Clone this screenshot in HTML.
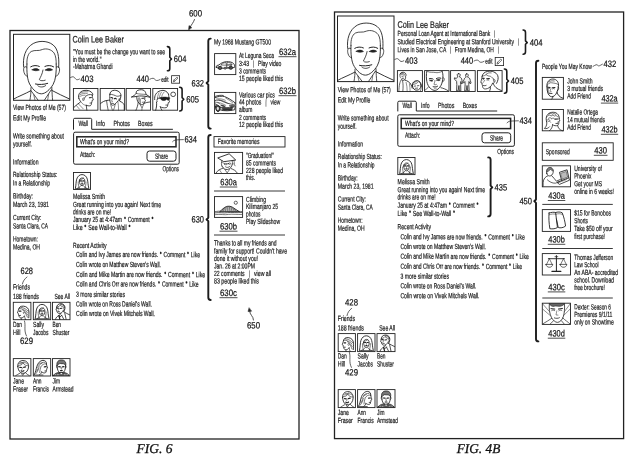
<!DOCTYPE html>
<html><head><meta charset="utf-8"><title>FIG. 6 / FIG. 4B</title>
<style>
html,body{margin:0;padding:0;background:#fff;}
body{width:640px;height:462px;overflow:hidden;font-family:"Liberation Sans",sans-serif;}
svg{display:block;font-family:"Liberation Sans",sans-serif;text-rendering:geometricPrecision;filter:grayscale(1);}
.fig{font-family:"Liberation Serif",serif;font-style:italic;}
</style></head><body>
<svg width="640" height="462" viewBox="0 0 640 462">
<rect x="0" y="0" width="640" height="462" fill="#ffffff"/>
<rect x="10.0" y="30.5" width="289.0" height="408.5" rx="0" fill="none" stroke="#222" stroke-width="1.3"/>
<text transform="rotate(0.05 195.5 16.5)" x="189.0" y="16.5" font-size="9.2" textLength="13.0" lengthAdjust="spacingAndGlyphs" fill="#111" stroke="#111" stroke-width="0.21" >600</text>
<path d="M194.5 19.5 C193.5 22.5 191.5 24.5 189.6 28" fill="none" stroke="#222" stroke-width="0.8" stroke-linecap="round" stroke-linejoin="round" />
<path d="M188.6 29.8 L189 25.6 L191.6 27.4 Z" fill="#222" stroke="#222" stroke-width="0.5" stroke-linecap="round" stroke-linejoin="round" />
<rect x="13.5" y="34.3" width="56.3" height="66.0" rx="0" fill="#fff" stroke="#222" stroke-width="1.0"/>
<g transform="translate(13.50 34.30) scale(0.9877 1.0000)"><g transform="translate(27.8 -0.3) scale(1.03 1) translate(-27.6 0)"><path d="M10.6 33 C9.5 24 12 14 20 9.5 C27 5.8 37 7 41.5 13 C45 18 45.5 26 45 33.5" fill="none" stroke="#222" stroke-width="0.9" stroke-linecap="round" stroke-linejoin="round" vector-effect="non-scaling-stroke"/><path d="M13.8 30 C13.5 24 15 19.5 18 17.5 C22 15.5 25 17.5 29 15.5 C33 14 38 15.5 40.5 19 C42.3 22 42.6 26 42.6 30" fill="none" stroke="#222" stroke-width="0.8" stroke-linecap="round" stroke-linejoin="round" vector-effect="non-scaling-stroke"/><path d="M13.8 30 C13.6 38 14 46 17 51 C20 56 24 59.8 28 59.8 C32 59.8 36.5 55.5 39.5 50.5 C42.3 45.5 42.8 38 42.6 30" fill="none" stroke="#222" stroke-width="0.9" stroke-linecap="round" stroke-linejoin="round" vector-effect="non-scaling-stroke"/><path d="M13.6 33 C10.5 31.5 10 35 11 38.5 C11.8 41 13 42.5 14.3 42" fill="none" stroke="#222" stroke-width="0.8" stroke-linecap="round" stroke-linejoin="round" vector-effect="non-scaling-stroke"/><path d="M42.8 33 C45.8 31.5 46.5 35 45.4 38.5 C44.6 41 43.4 42.5 42.2 42" fill="none" stroke="#222" stroke-width="0.8" stroke-linecap="round" stroke-linejoin="round" vector-effect="non-scaling-stroke"/><path d="M17.5 32.8 C20 31.2 23.5 31.2 26 32.4" fill="none" stroke="#222" stroke-width="1.0" stroke-linecap="round" stroke-linejoin="round" vector-effect="non-scaling-stroke"/><path d="M31.5 32.4 C34 31.2 37.5 31.2 40 32.8" fill="none" stroke="#222" stroke-width="1.0" stroke-linecap="round" stroke-linejoin="round" vector-effect="non-scaling-stroke"/><path d="M19 35.8 C21 34.2 24 34.2 26 36 C24 37 21 37 19 35.8 Z" fill="#222" stroke="#222" stroke-width="0.7" stroke-linecap="round" stroke-linejoin="round" vector-effect="non-scaling-stroke"/><path d="M32 36 C34 34.2 37 34.2 39 35.8 C37 37 34 37 32 36 Z" fill="#222" stroke="#222" stroke-width="0.7" stroke-linecap="round" stroke-linejoin="round" vector-effect="non-scaling-stroke"/><path d="M29.6 36 C29 40 27 43.4 26 45.6 C27 47 29.8 47 31.8 46.2" fill="none" stroke="#222" stroke-width="0.8" stroke-linecap="round" stroke-linejoin="round" vector-effect="non-scaling-stroke"/><path d="M22.2 50 C25 50.8 31 50.6 34.2 49.4" fill="none" stroke="#222" stroke-width="1.0" stroke-linecap="round" stroke-linejoin="round" vector-effect="non-scaling-stroke"/><path d="M24.5 51.8 C26.5 53.6 30.5 53.4 32.3 51.5" fill="none" stroke="#222" stroke-width="0.8" stroke-linecap="round" stroke-linejoin="round" vector-effect="non-scaling-stroke"/></g><path d="M17.7 53.4 C17.7 58 17.4 62 16.6 66" fill="none" stroke="#222" stroke-width="0.8" stroke-linecap="round" stroke-linejoin="round" vector-effect="non-scaling-stroke"/><path d="M38.8 52.9 C39 58 39.2 62 39.6 66" fill="none" stroke="#222" stroke-width="0.8" stroke-linecap="round" stroke-linejoin="round" vector-effect="non-scaling-stroke"/><path d="M17.4 56.5 C12 59.5 5 62 0.5 64.6" fill="none" stroke="#222" stroke-width="0.9" stroke-linecap="round" stroke-linejoin="round" vector-effect="non-scaling-stroke"/><path d="M38.6 56 C44 59 51 62 56.5 64.6" fill="none" stroke="#222" stroke-width="0.9" stroke-linecap="round" stroke-linejoin="round" vector-effect="non-scaling-stroke"/><path d="M17.8 56.5 L25 66" fill="none" stroke="#222" stroke-width="0.8" stroke-linecap="round" stroke-linejoin="round" vector-effect="non-scaling-stroke"/><path d="M38.2 55.5 L31.2 66" fill="none" stroke="#222" stroke-width="0.8" stroke-linecap="round" stroke-linejoin="round" vector-effect="non-scaling-stroke"/><path d="M20.5 60.5 L21.8 66" fill="none" stroke="#222" stroke-width="0.6" stroke-linecap="round" stroke-linejoin="round" vector-effect="non-scaling-stroke"/><path d="M35.6 60 L34.5 66" fill="none" stroke="#222" stroke-width="0.6" stroke-linecap="round" stroke-linejoin="round" vector-effect="non-scaling-stroke"/></g>
<text transform="rotate(0.05 98.2 42.6)" x="72.5" y="42.6" font-size="9.4" textLength="51.5" lengthAdjust="spacingAndGlyphs" fill="#1a1a1a" stroke="#1a1a1a" stroke-width="0.21" >Colin Lee Baker</text>
<text transform="rotate(0.05 119.0 54.2)" x="73.0" y="54.2" font-size="7.5" textLength="92.0" lengthAdjust="spacingAndGlyphs" fill="#1a1a1a" stroke="#1a1a1a" stroke-width="0.21" >"You must be the change you want to see</text>
<text transform="rotate(0.05 87.2 61.9)" x="73.0" y="61.9" font-size="7.5" textLength="28.5" lengthAdjust="spacingAndGlyphs" fill="#1a1a1a" stroke="#1a1a1a" stroke-width="0.21" >in the world."</text>
<text transform="rotate(0.05 92.8 69.1)" x="73.0" y="69.1" font-size="7.5" textLength="39.5" lengthAdjust="spacingAndGlyphs" fill="#1a1a1a" stroke="#1a1a1a" stroke-width="0.21" >-Mahatma Ghandi</text>
<path d="M167.4 46.6 C169.2 46.6 169.8 47.4 169.8 49.0 L169.8 57.3 L171.5 59.0 L169.8 60.7 L169.8 68.4 C169.8 70.0 169.2 70.8 167.4 70.8" fill="none" stroke="#1c1c1c" stroke-width="1.6" stroke-linecap="round" stroke-linejoin="round" />
<text transform="rotate(0.05 180.1 61.9)" x="173.8" y="61.9" font-size="9.2" textLength="12.6" lengthAdjust="spacingAndGlyphs" fill="#111" stroke="#111" stroke-width="0.21" >604</text>
<path d="M70.5 77.5 C73.2 75.9 74.1 77.0 75.0 78.2 S76.8 80.6 79.5 79.0" fill="none" stroke="#222" stroke-width="0.7" stroke-linecap="round" stroke-linejoin="round" />
<text transform="rotate(0.05 87.0 82.0)" x="80.5" y="82.0" font-size="9.2" textLength="13.0" lengthAdjust="spacingAndGlyphs" fill="#111" stroke="#111" stroke-width="0.21" >403</text>
<text transform="rotate(0.05 142.8 82.0)" x="136.5" y="82.0" font-size="9.2" textLength="12.5" lengthAdjust="spacingAndGlyphs" fill="#111" stroke="#111" stroke-width="0.21" >440</text>
<path d="M149.8 79.2 C152.9 77.6 153.9 78.2 154.9 79.4 S156.9 81.2 160.0 79.6" fill="none" stroke="#222" stroke-width="0.7" stroke-linecap="round" stroke-linejoin="round" />
<text transform="rotate(0.05 164.9 81.7)" x="161.2" y="81.7" font-size="7.0" textLength="7.4" lengthAdjust="spacingAndGlyphs" fill="#111" stroke="#111" stroke-width="0.21" >edit</text>
<rect x="171.6" y="75.7" width="8.0" height="7.5" rx="0" fill="#fff" stroke="#222" stroke-width="0.8"/>
<g transform="translate(171.60 75.70) scale(1.0000 0.9375)"><path d="M1.8 6.2 L2.2 4.8 L5.4 1.6 L6.4 2.6 L3.2 5.8 Z M2.2 4.8 L3.2 5.8" fill="none" stroke="#222" stroke-width="0.6" stroke-linecap="round" stroke-linejoin="round" vector-effect="non-scaling-stroke"/></g>
<rect x="73.4" y="88.5" width="24.5" height="21.7" rx="0" fill="#fff" stroke="#222" stroke-width="0.9"/>
<g transform="translate(73.40 88.50) scale(1.0208 0.9864)"><path d="M5.2 10 C4.4 6.4 6 3 10.4 2 C14.4 1.2 17.8 3 18.9 5.4 C19.2 6 18.9 6.6 18.6 7" fill="none" stroke="#222" stroke-width="0.9" stroke-linecap="round" stroke-linejoin="round" vector-effect="non-scaling-stroke"/><path d="M18.6 7 C18.4 8.4 18.8 9.6 19.5 11.6 L18.2 12.2 C18.4 13.2 18.2 14 17.7 14.8 C17.8 16 17.4 17 16.6 17.5 C15 17.8 13.6 17.4 12.6 17" fill="none" stroke="#222" stroke-width="0.8" stroke-linecap="round" stroke-linejoin="round" vector-effect="non-scaling-stroke"/><path d="M18.4 6.4 C16 5.6 13.4 6.4 12 8 C11 9.2 10.4 10.4 10.2 11.8" fill="none" stroke="#222" stroke-width="0.8" stroke-linecap="round" stroke-linejoin="round" vector-effect="non-scaling-stroke"/><path d="M7 4.6 C9 3.4 11.6 3 14 3.4 M6.4 6.4 C8.6 5 11 4.6 13.6 5 M6 8.4 C7.6 7.2 9.6 6.6 11.6 6.8" fill="none" stroke="#222" stroke-width="0.5" stroke-linecap="round" stroke-linejoin="round" vector-effect="non-scaling-stroke"/><path d="M10 9.6 C8.8 9.2 8.4 11.2 9.6 12.4" fill="none" stroke="#222" stroke-width="0.6" stroke-linecap="round" stroke-linejoin="round" vector-effect="non-scaling-stroke"/><path d="M15.6 9.4 L17.6 9.2" fill="none" stroke="#222" stroke-width="1.0" stroke-linecap="round" stroke-linejoin="round" vector-effect="non-scaling-stroke"/><path d="M16.2 14.8 L17.6 14.6" fill="none" stroke="#222" stroke-width="0.7" stroke-linecap="round" stroke-linejoin="round" vector-effect="non-scaling-stroke"/><path d="M5.4 10 C6 12 7 13 7.2 13.4 C5.4 15 2.4 17 0.5 19.2" fill="none" stroke="#222" stroke-width="0.9" stroke-linecap="round" stroke-linejoin="round" vector-effect="non-scaling-stroke"/><path d="M12.6 17 C12.8 19 13 20.6 13.2 22" fill="none" stroke="#222" stroke-width="0.8" stroke-linecap="round" stroke-linejoin="round" vector-effect="non-scaling-stroke"/><path d="M7.4 13.6 C8.6 15.6 10.6 17 12.6 17.2 M5 15.6 L9.6 20.6 M3 17.4 L6 21" fill="none" stroke="#222" stroke-width="0.5" stroke-linecap="round" stroke-linejoin="round" vector-effect="non-scaling-stroke"/></g>
<rect x="100.2" y="88.5" width="24.5" height="21.7" rx="0" fill="#fff" stroke="#222" stroke-width="0.9"/>
<g transform="translate(100.20 88.50) scale(1.0208 0.9864)"><path d="M9.4 6.2 C9.4 3.4 11.4 1.8 14 1.8 C17.4 1.8 20.4 4 20.3 7.4 C20.2 9.6 19.6 11 19 12.2" fill="none" stroke="#222" stroke-width="0.9" stroke-linecap="round" stroke-linejoin="round" vector-effect="non-scaling-stroke"/><path d="M9.4 6.2 C9.2 9 9.2 11.6 9.8 13.8 C10.4 15.8 11.2 17 12.2 17 C13.8 16.8 15.4 15.2 16.4 13.8 C17.4 12.6 18.4 11.6 19 10.4" fill="none" stroke="#222" stroke-width="0.8" stroke-linecap="round" stroke-linejoin="round" vector-effect="non-scaling-stroke"/><path d="M9.6 5.8 C12 6 14.6 7 16.2 7.8 C17.6 8 19 7.6 20.2 7" fill="none" stroke="#222" stroke-width="0.7" stroke-linecap="round" stroke-linejoin="round" vector-effect="non-scaling-stroke"/><path d="M10.4 9.4 C11 9 11.8 9.2 12.2 9.8 M13.8 10.4 C14.4 9.8 15.4 10 15.8 10.6" fill="none" stroke="#222" stroke-width="1.1" stroke-linecap="round" stroke-linejoin="round" vector-effect="non-scaling-stroke"/><path d="M11.8 10.6 L11.2 13 L12.2 13.4" fill="none" stroke="#222" stroke-width="0.5" stroke-linecap="round" stroke-linejoin="round" vector-effect="non-scaling-stroke"/><path d="M11 15 L13 15.2" fill="none" stroke="#222" stroke-width="0.7" stroke-linecap="round" stroke-linejoin="round" vector-effect="non-scaling-stroke"/><path d="M18.4 10.4 C19.4 10 19.8 11.6 18.8 12.6" fill="none" stroke="#222" stroke-width="0.5" stroke-linecap="round" stroke-linejoin="round" vector-effect="non-scaling-stroke"/><path d="M0.4 15.2 C2 13.6 4.4 12.4 6.2 12.2 C7.4 12 8.6 11.8 9.4 11.8" fill="none" stroke="#222" stroke-width="0.9" stroke-linecap="round" stroke-linejoin="round" vector-effect="non-scaling-stroke"/><path d="M19.4 13 C21.4 13.8 23 15.2 23.6 16.6 L23.6 22" fill="none" stroke="#222" stroke-width="0.9" stroke-linecap="round" stroke-linejoin="round" vector-effect="non-scaling-stroke"/><path d="M6.2 12.2 C6.6 15.6 7.2 19 7.8 22" fill="none" stroke="#222" stroke-width="0.7" stroke-linecap="round" stroke-linejoin="round" vector-effect="non-scaling-stroke"/><path d="M10.2 16 C10.6 18 11.4 20.4 12 22 M14.8 15.6 C14.4 18 13.6 20.4 13 22" fill="none" stroke="#222" stroke-width="0.6" stroke-linecap="round" stroke-linejoin="round" vector-effect="non-scaling-stroke"/><path d="M17.4 13.4 C17.8 16 18 19 18 22" fill="none" stroke="#222" stroke-width="0.5" stroke-linecap="round" stroke-linejoin="round" vector-effect="non-scaling-stroke"/></g>
<rect x="126.2" y="88.5" width="24.4" height="21.7" rx="0" fill="#fff" stroke="#222" stroke-width="0.9"/>
<g transform="translate(126.20 88.50) scale(1.0167 0.9864)"><path d="M5.4 8.6 C7.4 7.6 9 6.2 9.8 5 C9.8 3 10.4 2.2 11.6 1.8 C13.6 1 16.4 1 17.8 2.2 C19 3.4 19.4 4.8 19.4 6 C20.8 6.8 22.2 7.6 23.2 8.6" fill="none" stroke="#222" stroke-width="0.9" stroke-linecap="round" stroke-linejoin="round" vector-effect="non-scaling-stroke"/><path d="M5.4 8.6 C9 8.4 11 7.8 13 7.6 C16 7.4 20 8 23.2 8.8" fill="none" stroke="#222" stroke-width="0.9" stroke-linecap="round" stroke-linejoin="round" vector-effect="non-scaling-stroke"/><path d="M9.8 5 C12.6 5.8 16.6 5.8 19.4 6" fill="none" stroke="#222" stroke-width="0.6" stroke-linecap="round" stroke-linejoin="round" vector-effect="non-scaling-stroke"/><path d="M10.4 8.2 C10.2 10.4 10.8 12.4 11.8 13.8 C12.8 15.2 14 16.2 15 16.4 C16.6 16.4 17.8 15 18.2 13.6 L19 12 L18.2 11.4 L18.4 8.4" fill="none" stroke="#222" stroke-width="0.8" stroke-linecap="round" stroke-linejoin="round" vector-effect="non-scaling-stroke"/><path d="M15.4 10 L17.4 9.8" fill="none" stroke="#222" stroke-width="1.0" stroke-linecap="round" stroke-linejoin="round" vector-effect="non-scaling-stroke"/><path d="M15.8 14 L17.4 13.8" fill="none" stroke="#222" stroke-width="0.6" stroke-linecap="round" stroke-linejoin="round" vector-effect="non-scaling-stroke"/><path d="M12 9.6 L11.6 12.6 M13 9.4 L12.8 13.6 M14 10.6 L14 14.8 M12.4 14.4 L14.6 16" fill="none" stroke="#222" stroke-width="0.5" stroke-linecap="round" stroke-linejoin="round" vector-effect="non-scaling-stroke"/><path d="M11.8 14 C11.6 16.6 10.8 19.4 9.6 22" fill="none" stroke="#222" stroke-width="0.8" stroke-linecap="round" stroke-linejoin="round" vector-effect="non-scaling-stroke"/><path d="M17.6 15 C19 14.4 21.4 13.8 23.4 13.6" fill="none" stroke="#222" stroke-width="0.8" stroke-linecap="round" stroke-linejoin="round" vector-effect="non-scaling-stroke"/><path d="M13.4 16 L15.6 19.6 L17.4 15.6 M15.6 19.6 L15.4 22" fill="none" stroke="#222" stroke-width="0.6" stroke-linecap="round" stroke-linejoin="round" vector-effect="non-scaling-stroke"/></g>
<rect x="152.8" y="88.5" width="24.8" height="21.7" rx="0" fill="#fff" stroke="#222" stroke-width="0.9"/>
<g transform="translate(152.80 88.50) scale(1.0333 0.9864)"><path d="M1.8 11.2 C1.4 7.4 3 3.6 7.6 2.2 C10.6 1.4 13.6 2.2 15.2 5.8" fill="none" stroke="#222" stroke-width="0.9" stroke-linecap="round" stroke-linejoin="round" vector-effect="non-scaling-stroke"/><path d="M15.2 5.8 C15.4 7.4 15.6 8.6 15.6 9 M15.6 11.6 C16 12.6 16.2 13.2 16.2 13.8 L14.9 14.4 C15 15.4 14.8 16 14.4 16.8 C14.4 18 14 19 13 19.4 C11 19.8 9 19.6 7.2 18.6" fill="none" stroke="#222" stroke-width="0.8" stroke-linecap="round" stroke-linejoin="round" vector-effect="non-scaling-stroke"/><path d="M6 4.4 C4.8 6.6 4.4 9 4.6 11.4 M8.4 3.6 C7 5.6 6.4 8 6.4 9.6 M11 3.6 C9.6 5 8.8 6.8 8.6 8.6" fill="none" stroke="#222" stroke-width="0.5" stroke-linecap="round" stroke-linejoin="round" vector-effect="non-scaling-stroke"/><path d="M7.4 9.4 C9 8.6 12.6 8.6 14 9 C15 8.8 16 9 16.4 9.4 C16.4 11 15.8 11.8 14.8 11.8 C14 11.8 13.6 11.2 13.4 10.6 C13 11.6 11.6 12.2 10.2 12.2 C8.6 12.2 7.4 11 7.4 9.4 Z" fill="#1a1a1a" stroke="#222" stroke-width="0.6" stroke-linecap="round" stroke-linejoin="round" vector-effect="non-scaling-stroke"/><path d="M4.6 9.8 L7.4 10" fill="none" stroke="#222" stroke-width="0.8" stroke-linecap="round" stroke-linejoin="round" vector-effect="non-scaling-stroke"/><path d="M4.6 10.6 C3.6 10.4 3.4 12.4 4.6 13.4" fill="none" stroke="#222" stroke-width="0.6" stroke-linecap="round" stroke-linejoin="round" vector-effect="non-scaling-stroke"/><path d="M12.6 16.8 L14.2 16.8" fill="none" stroke="#222" stroke-width="0.7" stroke-linecap="round" stroke-linejoin="round" vector-effect="non-scaling-stroke"/><path d="M3.6 13.6 C4 16.4 3.6 19 2.8 22" fill="none" stroke="#222" stroke-width="0.9" stroke-linecap="round" stroke-linejoin="round" vector-effect="non-scaling-stroke"/><path d="M7.2 18.6 C7.6 19.8 8.2 21 8.8 22" fill="none" stroke="#222" stroke-width="0.8" stroke-linecap="round" stroke-linejoin="round" vector-effect="non-scaling-stroke"/><circle cx="19.7" cy="5.9" r="2.3" fill="none" stroke="#222" stroke-width="0.8" vector-effect="non-scaling-stroke"/></g>
<path d="M179.7 87.3 C181.5 87.3 182.1 88.1 182.1 89.7 L182.1 97.6 L183.8 99.3 L182.1 101.0 L182.1 108.6 C182.1 110.2 181.5 111.0 179.7 111.0" fill="none" stroke="#1c1c1c" stroke-width="1.6" stroke-linecap="round" stroke-linejoin="round" />
<text transform="rotate(0.05 192.7 102.5)" x="186.3" y="102.5" font-size="9.2" textLength="12.7" lengthAdjust="spacingAndGlyphs" fill="#111" stroke="#111" stroke-width="0.21" >605</text>
<text transform="rotate(0.05 39.5 110.1)" x="13.0" y="110.1" font-size="7.5" textLength="53.0" lengthAdjust="spacingAndGlyphs" fill="#1a1a1a" stroke="#1a1a1a" stroke-width="0.21" >View Photos of Me (57)</text>
<text transform="rotate(0.05 29.5 120.6)" x="13.0" y="120.6" font-size="7.5" textLength="33.0" lengthAdjust="spacingAndGlyphs" fill="#1a1a1a" stroke="#1a1a1a" stroke-width="0.21" >Edit My Profile</text>
<text transform="rotate(0.05 38.5 138.6)" x="13.0" y="138.6" font-size="7.5" textLength="51.0" lengthAdjust="spacingAndGlyphs" fill="#1a1a1a" stroke="#1a1a1a" stroke-width="0.21" >Write something about</text>
<text transform="rotate(0.05 22.5 146.4)" x="13.0" y="146.4" font-size="7.5" textLength="19.0" lengthAdjust="spacingAndGlyphs" fill="#1a1a1a" stroke="#1a1a1a" stroke-width="0.21" >yourself.</text>
<text transform="rotate(0.05 25.8 164.6)" x="13.0" y="164.6" font-size="7.5" textLength="25.5" lengthAdjust="spacingAndGlyphs" fill="#1a1a1a" stroke="#1a1a1a" stroke-width="0.21" >Information</text>
<text transform="rotate(0.05 35.2 177.1)" x="13.0" y="177.1" font-size="7.5" textLength="44.5" lengthAdjust="spacingAndGlyphs" fill="#1a1a1a" stroke="#1a1a1a" stroke-width="0.21" >Relationship Status:</text>
<text transform="rotate(0.05 31.5 185.6)" x="13.0" y="185.6" font-size="7.5" textLength="37.0" lengthAdjust="spacingAndGlyphs" fill="#1a1a1a" stroke="#1a1a1a" stroke-width="0.21" >In a Relationship</text>
<text transform="rotate(0.05 23.0 198.6)" x="13.0" y="198.6" font-size="7.5" textLength="20.0" lengthAdjust="spacingAndGlyphs" fill="#1a1a1a" stroke="#1a1a1a" stroke-width="0.21" >Birthday:</text>
<text transform="rotate(0.05 31.0 207.1)" x="13.0" y="207.1" font-size="7.5" textLength="36.0" lengthAdjust="spacingAndGlyphs" fill="#1a1a1a" stroke="#1a1a1a" stroke-width="0.21" >March 23, 1981</text>
<text transform="rotate(0.05 27.2 220.1)" x="13.0" y="220.1" font-size="7.5" textLength="28.5" lengthAdjust="spacingAndGlyphs" fill="#1a1a1a" stroke="#1a1a1a" stroke-width="0.21" >Current City:</text>
<text transform="rotate(0.05 30.5 228.4)" x="13.0" y="228.4" font-size="7.5" textLength="35.0" lengthAdjust="spacingAndGlyphs" fill="#1a1a1a" stroke="#1a1a1a" stroke-width="0.21" >Santa Clara, CA</text>
<text transform="rotate(0.05 25.5 241.4)" x="13.0" y="241.4" font-size="7.5" textLength="25.0" lengthAdjust="spacingAndGlyphs" fill="#1a1a1a" stroke="#1a1a1a" stroke-width="0.21" >Hometown:</text>
<text transform="rotate(0.05 26.5 249.4)" x="13.0" y="249.4" font-size="7.5" textLength="27.0" lengthAdjust="spacingAndGlyphs" fill="#1a1a1a" stroke="#1a1a1a" stroke-width="0.21" >Medina, OH</text>
<text transform="rotate(0.05 26.8 274.0)" x="20.5" y="274.0" font-size="9.2" textLength="12.5" lengthAdjust="spacingAndGlyphs" fill="#111" stroke="#111" stroke-width="0.21" >628</text>
<path d="M27 277 C24.5 279 23 281 22.4 284" fill="none" stroke="#222" stroke-width="0.7" stroke-linecap="round" stroke-linejoin="round" />
<text transform="rotate(0.05 21.5 289.6)" x="13.0" y="289.6" font-size="7.5" textLength="17.0" lengthAdjust="spacingAndGlyphs" fill="#1a1a1a" stroke="#1a1a1a" stroke-width="0.21" >Friends</text>
<text transform="rotate(0.05 26.0 298.9)" x="13.0" y="298.9" font-size="7.5" textLength="26.0" lengthAdjust="spacingAndGlyphs" fill="#1a1a1a" stroke="#1a1a1a" stroke-width="0.21" >188 friends</text>
<text transform="rotate(0.05 62.2 298.9)" x="54.5" y="298.9" font-size="7.5" textLength="15.5" lengthAdjust="spacingAndGlyphs" fill="#1a1a1a" stroke="#1a1a1a" stroke-width="0.21" >See All</text>
<rect x="13.3" y="302.3" width="17.6" height="17.4" rx="0" fill="#fff" stroke="#222" stroke-width="0.9"/>
<g transform="translate(13.30 302.30) scale(0.9778 0.9667)"><path d="M5.6 7 C5.6 5 7.6 3.8 10.4 4 C13.6 4.2 16 6.4 16 9.6 C16 11.6 16 13.6 15.8 16" fill="none" stroke="#222" stroke-width="0.9" stroke-linecap="round" stroke-linejoin="round" vector-effect="non-scaling-stroke"/><path d="M5.6 7 C5.2 8.2 4.8 9.4 4.2 11 L5.2 11.6 C5.2 12.6 5.4 13.4 5.8 14 C6 15.4 6.8 16.2 8 16.2 C9.4 16.2 10.6 15.4 11.4 14.2" fill="none" stroke="#222" stroke-width="0.8" stroke-linecap="round" stroke-linejoin="round" vector-effect="non-scaling-stroke"/><path d="M6.4 6.4 C9 6.6 12 8 14.4 10.4 M7.6 5.2 C10.4 5.4 13.4 7 15.4 9.4 M9.6 8 C11.6 9 13.4 10.8 14.6 13 M11.4 10.4 C12.8 11.6 13.8 13.4 14.4 15.4" fill="none" stroke="#222" stroke-width="0.6" stroke-linecap="round" stroke-linejoin="round" vector-effect="non-scaling-stroke"/><path d="M6.2 9.2 L7.8 9.2" fill="none" stroke="#222" stroke-width="1.2" stroke-linecap="round" stroke-linejoin="round" vector-effect="non-scaling-stroke"/><path d="M6 13.6 L7.4 13.6" fill="none" stroke="#222" stroke-width="0.8" stroke-linecap="round" stroke-linejoin="round" vector-effect="non-scaling-stroke"/><path d="M10.8 9.8 C10 9.6 9.8 11.4 10.8 12" fill="none" stroke="#222" stroke-width="0.6" stroke-linecap="round" stroke-linejoin="round" vector-effect="non-scaling-stroke"/><path d="M11.4 14.2 C11.6 15.4 12 16.6 12.6 18 M8 16.4 C8 17 8.2 17.6 8.4 18" fill="none" stroke="#222" stroke-width="0.7" stroke-linecap="round" stroke-linejoin="round" vector-effect="non-scaling-stroke"/></g>
<rect x="33.3" y="302.3" width="17.4" height="17.4" rx="0" fill="#fff" stroke="#222" stroke-width="0.9"/>
<g transform="translate(33.30 302.30) scale(0.9667 0.9667)"><path d="M2 16.6 C2.8 13 2.6 9.6 3.4 7 C4.4 3.8 6.6 2.2 9 2.2 C11.6 2.2 13.8 4 14.6 7 C15.4 9.8 15.2 13 16.2 16.6" fill="none" stroke="#222" stroke-width="0.9" stroke-linecap="round" stroke-linejoin="round" vector-effect="non-scaling-stroke"/><path d="M6.2 9 C6.2 7 7.4 5.8 9.1 5.8 C10.8 5.8 12 7 12 9 C12 11.6 10.8 14 9.1 14 C7.4 14 6.2 11.6 6.2 9 Z" fill="none" stroke="#222" stroke-width="0.8" stroke-linecap="round" stroke-linejoin="round" vector-effect="non-scaling-stroke"/><path d="M6.4 7.8 C8 7.6 9.8 6.8 10.6 5.9 M5 10 C5 12.6 5.4 14.6 6 16.6 M13.2 10 C13.2 12.6 12.8 14.6 12.2 16.6" fill="none" stroke="#222" stroke-width="0.6" stroke-linecap="round" stroke-linejoin="round" vector-effect="non-scaling-stroke"/><path d="M7.2 8.9 L8.4 8.9 M9.9 8.9 L11.1 8.9" fill="none" stroke="#222" stroke-width="1.2" stroke-linecap="round" stroke-linejoin="round" vector-effect="non-scaling-stroke"/><path d="M8.5 12 L9.8 12" fill="none" stroke="#222" stroke-width="1.1" stroke-linecap="round" stroke-linejoin="round" vector-effect="non-scaling-stroke"/><path d="M9.1 9.6 L9.1 10.8" fill="none" stroke="#222" stroke-width="0.5" stroke-linecap="round" stroke-linejoin="round" vector-effect="non-scaling-stroke"/><path d="M7.6 14.2 C7 15.4 5.6 16.2 4 16.8 M10.6 14.2 C11.2 15.4 12.6 16.2 14.2 16.8 M2 17 L16.2 17" fill="none" stroke="#222" stroke-width="0.7" stroke-linecap="round" stroke-linejoin="round" vector-effect="non-scaling-stroke"/></g>
<rect x="52.5" y="302.3" width="17.5" height="17.4" rx="0" fill="#fff" stroke="#222" stroke-width="0.9"/>
<g transform="translate(52.50 302.30) scale(0.9722 0.9667)"><path d="M4.2 5.6 C4 3.2 6 1.4 8.6 1.4 C11.4 1.4 13 3.6 12.8 6.2 C12.6 7.6 12.2 8.8 11.6 9.8" fill="none" stroke="#222" stroke-width="0.9" stroke-linecap="round" stroke-linejoin="round" vector-effect="non-scaling-stroke"/><path d="M4.2 5.6 C4 6.6 3.8 7.4 3.6 8 L4.4 8.4 C4.4 9.4 4.6 10.2 5.2 10.8 C6 11.6 7.4 11.8 8.6 11.2 C9.8 10.6 10.8 9.4 11.2 8.2" fill="none" stroke="#222" stroke-width="0.8" stroke-linecap="round" stroke-linejoin="round" vector-effect="non-scaling-stroke"/><path d="M4.6 4.8 C6 4.8 7.2 4 8 3 C9.4 4.4 11.2 5 12.6 5.2 M8.4 2.2 C10 2.2 11.4 3 12.2 4.2" fill="none" stroke="#222" stroke-width="0.7" stroke-linecap="round" stroke-linejoin="round" vector-effect="non-scaling-stroke"/><path d="M5 6 L6.4 6.2 M8 6.4 L9.6 6.2" fill="none" stroke="#222" stroke-width="1.1" stroke-linecap="round" stroke-linejoin="round" vector-effect="non-scaling-stroke"/><path d="M5.6 9.6 L7.2 9.8" fill="none" stroke="#222" stroke-width="0.8" stroke-linecap="round" stroke-linejoin="round" vector-effect="non-scaling-stroke"/><path d="M6.8 6.8 L6 8.4" fill="none" stroke="#222" stroke-width="0.5" stroke-linecap="round" stroke-linejoin="round" vector-effect="non-scaling-stroke"/><path d="M11.2 6 C12.2 5.6 12.6 7.2 11.6 8.4" fill="none" stroke="#222" stroke-width="0.6" stroke-linecap="round" stroke-linejoin="round" vector-effect="non-scaling-stroke"/><path d="M8.6 11.4 C8.4 12.4 7.6 13.2 6.6 13.6 L7.4 15.6 L9.4 13.4 M11.6 9.8 C13.4 11 16 12.2 17.6 13 M6.6 13.6 C5 14.4 3.6 15.6 3 17.6 M9.4 13.4 L11.6 17.6 M12.6 11 L14 17.6" fill="none" stroke="#222" stroke-width="0.8" stroke-linecap="round" stroke-linejoin="round" vector-effect="non-scaling-stroke"/><path d="M6.6 13.8 L7.6 17.6" fill="none" stroke="#222" stroke-width="1.2" stroke-linecap="round" stroke-linejoin="round" vector-effect="non-scaling-stroke"/></g>
<text transform="rotate(0.05 17.5 327.1)" x="13.0" y="327.1" font-size="7.5" textLength="9.0" lengthAdjust="spacingAndGlyphs" fill="#1a1a1a" stroke="#1a1a1a" stroke-width="0.21" >Dan</text>
<text transform="rotate(0.05 16.8 335.1)" x="13.0" y="335.1" font-size="7.5" textLength="7.5" lengthAdjust="spacingAndGlyphs" fill="#1a1a1a" stroke="#1a1a1a" stroke-width="0.21" >Hill</text>
<text transform="rotate(0.05 38.5 327.1)" x="33.0" y="327.1" font-size="7.5" textLength="11.0" lengthAdjust="spacingAndGlyphs" fill="#1a1a1a" stroke="#1a1a1a" stroke-width="0.21" >Sally</text>
<text transform="rotate(0.05 40.8 335.1)" x="33.0" y="335.1" font-size="7.5" textLength="15.5" lengthAdjust="spacingAndGlyphs" fill="#1a1a1a" stroke="#1a1a1a" stroke-width="0.21" >Jacobs</text>
<text transform="rotate(0.05 56.8 327.1)" x="52.5" y="327.1" font-size="7.5" textLength="8.5" lengthAdjust="spacingAndGlyphs" fill="#1a1a1a" stroke="#1a1a1a" stroke-width="0.21" >Ben</text>
<text transform="rotate(0.05 61.0 335.1)" x="52.5" y="335.1" font-size="7.5" textLength="17.0" lengthAdjust="spacingAndGlyphs" fill="#1a1a1a" stroke="#1a1a1a" stroke-width="0.21" >Shuster</text>
<path d="M24.5 321 C26 326 23.5 330 26.5 336" fill="none" stroke="#222" stroke-width="0.7" stroke-linecap="round" stroke-linejoin="round" />
<text transform="rotate(0.05 26.5 344.0)" x="20.0" y="344.0" font-size="9.2" textLength="13.0" lengthAdjust="spacingAndGlyphs" fill="#111" stroke="#111" stroke-width="0.21" >629</text>
<rect x="13.3" y="358.6" width="17.6" height="17.4" rx="0" fill="#fff" stroke="#222" stroke-width="0.9"/>
<g transform="translate(13.30 358.60) scale(0.9778 0.9667)"><path d="M4.6 8 C4.2 4.6 6.6 2 10 2 C13.6 2 16 4.8 15.6 8.6 C15.4 11.6 13.6 14.6 10.8 15.2 C8.4 15.6 6.4 14 5.4 11.6 C5 10.6 4.8 9.4 4.6 8 Z" fill="none" stroke="#222" stroke-width="0.9" stroke-linecap="round" stroke-linejoin="round" vector-effect="non-scaling-stroke"/><path d="M5 7 C7 7.4 9 6.4 10 4.6 C11 6.6 13.4 7.6 15.4 7.4 M7 3.6 C8.6 4.4 9.6 4.4 11 3.4 M10.4 4.4 C12 3.8 13.6 4.4 14.6 5.6 M6 5.2 C7.2 5.6 8.4 5.2 9.2 4.4" fill="none" stroke="#222" stroke-width="0.6" stroke-linecap="round" stroke-linejoin="round" vector-effect="non-scaling-stroke"/><path d="M6.6 9 L8.4 9.2 M10.6 9 L12.6 8.6" fill="none" stroke="#222" stroke-width="1.2" stroke-linecap="round" stroke-linejoin="round" vector-effect="non-scaling-stroke"/><path d="M8 12.6 C8.8 13.2 10 13.2 10.8 12.4" fill="none" stroke="#222" stroke-width="1.1" stroke-linecap="round" stroke-linejoin="round" vector-effect="non-scaling-stroke"/><path d="M9.4 9.6 L8.8 11.2" fill="none" stroke="#222" stroke-width="0.5" stroke-linecap="round" stroke-linejoin="round" vector-effect="non-scaling-stroke"/><path d="M7 15 C5.6 16 3.6 16.6 2.4 17.6 M12.6 14.8 C13.6 16 15 16.8 16.4 17.6 M8.4 15.6 L9.6 17.4 L11 15.4" fill="none" stroke="#222" stroke-width="0.7" stroke-linecap="round" stroke-linejoin="round" vector-effect="non-scaling-stroke"/></g>
<rect x="33.3" y="358.6" width="17.4" height="17.4" rx="0" fill="#fff" stroke="#222" stroke-width="0.9"/>
<g transform="translate(33.30 358.60) scale(0.9667 0.9667)"><path d="M1 16.6 C2.6 14 2.8 11 3.6 8.4 C4.6 4.6 7 2 10 1.8 C12.6 1.8 14 3.6 13.6 5.8" fill="none" stroke="#222" stroke-width="0.9" stroke-linecap="round" stroke-linejoin="round" vector-effect="non-scaling-stroke"/><path d="M13.6 5.8 C13.8 7 14.2 8.4 14.8 9.8 L13.8 10.4 C14 11.4 13.8 12 13.4 12.6 C13.4 13.8 13 14.6 12 14.8 C10.8 15 9.6 14.6 8.6 13.8" fill="none" stroke="#222" stroke-width="0.8" stroke-linecap="round" stroke-linejoin="round" vector-effect="non-scaling-stroke"/><path d="M13.4 5.4 C11 5 8.8 6.4 7.8 8.6 C7 10.4 7 12.4 6.6 14.4 M5.6 6 C7.4 4.4 9.6 3.6 11.8 3.8 M4.6 9 C5.6 7 7 5.6 9 4.8 M3.6 13 C4.6 11 5.4 9.4 6.4 8.4 M2.6 15.6 C4 14 5 12 5.6 10.4" fill="none" stroke="#222" stroke-width="0.6" stroke-linecap="round" stroke-linejoin="round" vector-effect="non-scaling-stroke"/><path d="M11.4 8.6 L13.2 8.4" fill="none" stroke="#222" stroke-width="1.2" stroke-linecap="round" stroke-linejoin="round" vector-effect="non-scaling-stroke"/><path d="M12 12.8 L13.2 12.8" fill="none" stroke="#222" stroke-width="0.8" stroke-linecap="round" stroke-linejoin="round" vector-effect="non-scaling-stroke"/><path d="M8.6 13.8 C8.4 15 7.6 16 6.4 16.8 M1 17 L10 17" fill="none" stroke="#222" stroke-width="0.8" stroke-linecap="round" stroke-linejoin="round" vector-effect="non-scaling-stroke"/></g>
<rect x="52.5" y="358.6" width="17.5" height="17.4" rx="0" fill="#fff" stroke="#222" stroke-width="0.9"/>
<g transform="translate(52.50 358.60) scale(0.9722 0.9667)"><path d="M4.6 7 C4 3.4 6 1.4 9.2 1.4 C12.4 1.4 14.2 3.4 13.6 7 C12.6 5.6 11.4 5 9.8 5.2 C8.4 5.4 7.6 4.6 7 5.4 C6 5.6 5.2 6.2 4.6 7 Z" fill="#777" stroke="#222" stroke-width="0.8" stroke-linecap="round" stroke-linejoin="round" vector-effect="non-scaling-stroke"/><path d="M4.8 6.8 C4.6 9.6 5.2 12 6.4 13.6 C7.2 14.6 8.2 15 9.1 15 C10 15 11 14.6 11.8 13.6 C13 12 13.6 9.6 13.4 6.8" fill="none" stroke="#222" stroke-width="0.9" stroke-linecap="round" stroke-linejoin="round" vector-effect="non-scaling-stroke"/><path d="M4.6 7.4 C3.8 7.2 3.8 9.2 4.8 10 M13.6 7.4 C14.4 7.2 14.4 9.2 13.4 10" fill="none" stroke="#222" stroke-width="0.6" stroke-linecap="round" stroke-linejoin="round" vector-effect="non-scaling-stroke"/><path d="M6.4 8.4 L8 8.6 M10.2 8.6 L11.8 8.4" fill="none" stroke="#222" stroke-width="1.2" stroke-linecap="round" stroke-linejoin="round" vector-effect="non-scaling-stroke"/><path d="M8.2 12.4 L10 12.4" fill="none" stroke="#222" stroke-width="1.2" stroke-linecap="round" stroke-linejoin="round" vector-effect="non-scaling-stroke"/><path d="M9.1 9 L8.8 10.8 L9.6 10.8" fill="none" stroke="#222" stroke-width="0.5" stroke-linecap="round" stroke-linejoin="round" vector-effect="non-scaling-stroke"/><path d="M1 17.4 C2 15.6 4 14.8 6.6 14.2 L17 17.4 M11.6 14.2 C14 14.8 16 15.6 17 17.4 L1 17.4 Z" fill="#777" stroke="#222" stroke-width="0.7" stroke-linecap="round" stroke-linejoin="round" vector-effect="non-scaling-stroke"/><path d="M7.4 14.8 L9.1 17 L10.8 14.8 Z" fill="#fff" stroke="#222" stroke-width="0.5" stroke-linecap="round" stroke-linejoin="round" vector-effect="non-scaling-stroke"/><path d="M2.6 16.6 L3.6 16.6 M5 16.6 L6 16.6 M12.2 16.6 L13.2 16.6 M14.6 16.6 L15.6 16.6" fill="none" stroke="#eee" stroke-width="0.6" stroke-linecap="round" stroke-linejoin="round" vector-effect="non-scaling-stroke"/></g>
<text transform="rotate(0.05 18.5 383.6)" x="13.0" y="383.6" font-size="7.5" textLength="11.0" lengthAdjust="spacingAndGlyphs" fill="#1a1a1a" stroke="#1a1a1a" stroke-width="0.21" >Jane</text>
<text transform="rotate(0.05 20.5 391.6)" x="13.0" y="391.6" font-size="7.5" textLength="15.0" lengthAdjust="spacingAndGlyphs" fill="#1a1a1a" stroke="#1a1a1a" stroke-width="0.21" >Fraser</text>
<text transform="rotate(0.05 37.2 383.6)" x="33.0" y="383.6" font-size="7.5" textLength="8.5" lengthAdjust="spacingAndGlyphs" fill="#1a1a1a" stroke="#1a1a1a" stroke-width="0.21" >Ann</text>
<text transform="rotate(0.05 41.0 391.6)" x="33.0" y="391.6" font-size="7.5" textLength="16.0" lengthAdjust="spacingAndGlyphs" fill="#1a1a1a" stroke="#1a1a1a" stroke-width="0.21" >Francis</text>
<text transform="rotate(0.05 56.2 383.6)" x="52.5" y="383.6" font-size="7.5" textLength="7.5" lengthAdjust="spacingAndGlyphs" fill="#1a1a1a" stroke="#1a1a1a" stroke-width="0.21" >Jim</text>
<text transform="rotate(0.05 63.0 391.6)" x="52.5" y="391.6" font-size="7.5" textLength="21.0" lengthAdjust="spacingAndGlyphs" fill="#1a1a1a" stroke="#1a1a1a" stroke-width="0.21" >Armstead</text>
<path d="M73.5 129.3 L73.5 119.5 C73.5 118.7 74 118.3 74.8 118.3 L90.4 118.3 C91.2 118.3 91.7 118.7 91.7 119.5 L91.7 129.3 L172.5 129.3" fill="none" stroke="#222" stroke-width="1.0" stroke-linecap="round" stroke-linejoin="round" />
<text transform="rotate(0.05 83.2 125.9)" x="78.5" y="125.9" font-size="7.5" textLength="9.5" lengthAdjust="spacingAndGlyphs" fill="#1a1a1a" stroke="#1a1a1a" stroke-width="0.21" >Wall</text>
<text transform="rotate(0.05 100.5 125.9)" x="96.0" y="125.9" font-size="7.5" textLength="9.0" lengthAdjust="spacingAndGlyphs" fill="#1a1a1a" stroke="#1a1a1a" stroke-width="0.21" >Info</text>
<text transform="rotate(0.05 121.8 125.9)" x="113.5" y="125.9" font-size="7.5" textLength="16.5" lengthAdjust="spacingAndGlyphs" fill="#1a1a1a" stroke="#1a1a1a" stroke-width="0.21" >Photos</text>
<text transform="rotate(0.05 145.2 125.9)" x="138.0" y="125.9" font-size="7.5" textLength="14.5" lengthAdjust="spacingAndGlyphs" fill="#1a1a1a" stroke="#1a1a1a" stroke-width="0.21" >Boxes</text>
<rect x="73.6" y="132.2" width="105.6" height="32.0" rx="1.5" fill="none" stroke="#222" stroke-width="1.0"/>
<rect x="76.8" y="136.8" width="99.2" height="10.0" rx="0" fill="none" stroke="#222" stroke-width="1.5"/>
<text transform="rotate(0.05 104.5 144.2)" x="80.0" y="144.2" font-size="7.5" textLength="49.0" lengthAdjust="spacingAndGlyphs" fill="#1a1a1a" stroke="#1a1a1a" stroke-width="0.21" >What's on your mind?</text>
<path d="M172.6 141.6 C174 139.8 176 140 178 139.8 L183.4 139.6" fill="none" stroke="#222" stroke-width="0.7" stroke-linecap="round" stroke-linejoin="round" />
<text transform="rotate(0.05 190.7 142.6)" x="184.4" y="142.6" font-size="9.2" textLength="12.6" lengthAdjust="spacingAndGlyphs" fill="#111" stroke="#111" stroke-width="0.21" >634</text>
<text transform="rotate(0.05 87.8 157.1)" x="80.0" y="157.1" font-size="7.5" textLength="15.5" lengthAdjust="spacingAndGlyphs" fill="#1a1a1a" stroke="#1a1a1a" stroke-width="0.21" >Attach:</text>
<rect x="147.0" y="151.0" width="29.0" height="10.2" rx="2.5" fill="none" stroke="#222" stroke-width="1.0"/>
<text transform="rotate(0.05 161.5 158.8)" x="155.0" y="158.8" font-size="7.5" textLength="13.0" lengthAdjust="spacingAndGlyphs" fill="#1a1a1a" stroke="#1a1a1a" stroke-width="0.21" >Share</text>
<text transform="rotate(0.05 170.8 171.2)" x="162.5" y="171.2" font-size="7.5" textLength="16.5" lengthAdjust="spacingAndGlyphs" fill="#1a1a1a" stroke="#1a1a1a" stroke-width="0.21" >Options</text>
<rect x="73.5" y="172.5" width="17.0" height="17.0" rx="0" fill="#fff" stroke="#222" stroke-width="0.9"/>
<g transform="translate(73.50 172.50) scale(0.9444 0.9444)"><path d="M2 16.6 C2.8 13 2.6 9.6 3.4 7 C4.4 3.8 6.6 2.2 9 2.2 C11.6 2.2 13.8 4 14.6 7 C15.4 9.8 15.2 13 16.2 16.6" fill="none" stroke="#222" stroke-width="0.9" stroke-linecap="round" stroke-linejoin="round" vector-effect="non-scaling-stroke"/><path d="M6.2 9 C6.2 7 7.4 5.8 9.1 5.8 C10.8 5.8 12 7 12 9 C12 11.6 10.8 14 9.1 14 C7.4 14 6.2 11.6 6.2 9 Z" fill="none" stroke="#222" stroke-width="0.8" stroke-linecap="round" stroke-linejoin="round" vector-effect="non-scaling-stroke"/><path d="M6.4 7.8 C8 7.6 9.8 6.8 10.6 5.9 M5 10 C5 12.6 5.4 14.6 6 16.6 M13.2 10 C13.2 12.6 12.8 14.6 12.2 16.6" fill="none" stroke="#222" stroke-width="0.6" stroke-linecap="round" stroke-linejoin="round" vector-effect="non-scaling-stroke"/><path d="M7.2 8.9 L8.4 8.9 M9.9 8.9 L11.1 8.9" fill="none" stroke="#222" stroke-width="1.2" stroke-linecap="round" stroke-linejoin="round" vector-effect="non-scaling-stroke"/><path d="M8.5 12 L9.8 12" fill="none" stroke="#222" stroke-width="1.1" stroke-linecap="round" stroke-linejoin="round" vector-effect="non-scaling-stroke"/><path d="M9.1 9.6 L9.1 10.8" fill="none" stroke="#222" stroke-width="0.5" stroke-linecap="round" stroke-linejoin="round" vector-effect="non-scaling-stroke"/><path d="M7.6 14.2 C7 15.4 5.6 16.2 4 16.8 M10.6 14.2 C11.2 15.4 12.6 16.2 14.2 16.8 M2 17 L16.2 17" fill="none" stroke="#222" stroke-width="0.7" stroke-linecap="round" stroke-linejoin="round" vector-effect="non-scaling-stroke"/></g>
<text transform="rotate(0.05 89.0 199.1)" x="73.0" y="199.1" font-size="7.5" textLength="32.0" lengthAdjust="spacingAndGlyphs" fill="#1a1a1a" stroke="#1a1a1a" stroke-width="0.21" >Melissa Smith</text>
<text transform="rotate(0.05 117.0 207.1)" x="73.0" y="207.1" font-size="7.5" textLength="88.0" lengthAdjust="spacingAndGlyphs" fill="#1a1a1a" stroke="#1a1a1a" stroke-width="0.21" >Great running into you again! Next time</text>
<text transform="rotate(0.05 92.0 214.4)" x="73.0" y="214.4" font-size="7.5" textLength="38.0" lengthAdjust="spacingAndGlyphs" fill="#1a1a1a" stroke="#1a1a1a" stroke-width="0.21" >drinks are on me!</text>
<text transform="rotate(0.05 113.2 222.1)" x="73.0" y="222.1" font-size="7.5" textLength="80.5" lengthAdjust="spacingAndGlyphs" fill="#1a1a1a" stroke="#1a1a1a" stroke-width="0.21" >January 25 at 4:47am<tspan font-size="9.5"> </tspan><tspan dy="-1.4" font-size="8.5">•</tspan><tspan dy="1.4" font-size="9.5"> </tspan>Comment<tspan font-size="9.5"> </tspan><tspan dy="-1.4" font-size="8.5">•</tspan></text>
<text transform="rotate(0.05 101.8 230.1)" x="73.0" y="230.1" font-size="7.5" textLength="57.5" lengthAdjust="spacingAndGlyphs" fill="#1a1a1a" stroke="#1a1a1a" stroke-width="0.21" >Like<tspan font-size="9.5"> </tspan><tspan dy="-1.4" font-size="8.5">•</tspan><tspan dy="1.4" font-size="9.5"> </tspan>See Wall-to-Wall<tspan font-size="9.5"> </tspan><tspan dy="-1.4" font-size="8.5">•</tspan></text>
<text transform="rotate(0.05 89.8 248.1)" x="73.0" y="248.1" font-size="7.5" textLength="33.5" lengthAdjust="spacingAndGlyphs" fill="#1a1a1a" stroke="#1a1a1a" stroke-width="0.21" >Recent Activity</text>
<text transform="rotate(0.05 138.0 257.1)" x="76.0" y="257.1" font-size="7.5" textLength="124.0" lengthAdjust="spacingAndGlyphs" fill="#1a1a1a" stroke="#1a1a1a" stroke-width="0.21" >Colin and Ivy James are now friends.<tspan font-size="9.5"> </tspan><tspan dy="-1.4" font-size="8.5">•</tspan><tspan dy="1.4" font-size="9.5"> </tspan>Comment<tspan font-size="9.5"> </tspan><tspan dy="-1.4" font-size="8.5">•</tspan><tspan dy="1.4" font-size="9.5"> </tspan>Like</text>
<text transform="rotate(0.05 118.5 267.1)" x="76.0" y="267.1" font-size="7.5" textLength="85.0" lengthAdjust="spacingAndGlyphs" fill="#1a1a1a" stroke="#1a1a1a" stroke-width="0.21" >Colin wrote on Matthew Steven's Wall.</text>
<text transform="rotate(0.05 140.5 277.1)" x="76.0" y="277.1" font-size="7.5" textLength="129.0" lengthAdjust="spacingAndGlyphs" fill="#1a1a1a" stroke="#1a1a1a" stroke-width="0.21" >Colin and Mike Martin are now friends.<tspan font-size="9.5"> </tspan><tspan dy="-1.4" font-size="8.5">•</tspan><tspan dy="1.4" font-size="9.5"> </tspan>Comment<tspan font-size="9.5"> </tspan><tspan dy="-1.4" font-size="8.5">•</tspan><tspan dy="1.4" font-size="9.5"> </tspan>Like</text>
<text transform="rotate(0.05 137.2 286.6)" x="76.0" y="286.6" font-size="7.5" textLength="122.5" lengthAdjust="spacingAndGlyphs" fill="#1a1a1a" stroke="#1a1a1a" stroke-width="0.21" >Colin and Chris Orr are now friends.<tspan font-size="9.5"> </tspan><tspan dy="-1.4" font-size="8.5">•</tspan><tspan dy="1.4" font-size="9.5"> </tspan>Comment<tspan font-size="9.5"> </tspan><tspan dy="-1.4" font-size="8.5">•</tspan><tspan dy="1.4" font-size="9.5"> </tspan>Like</text>
<text transform="rotate(0.05 100.5 296.9)" x="76.0" y="296.9" font-size="7.5" textLength="49.0" lengthAdjust="spacingAndGlyphs" fill="#1a1a1a" stroke="#1a1a1a" stroke-width="0.21" >3 more similar stories</text>
<text transform="rotate(0.05 114.0 306.6)" x="76.0" y="306.6" font-size="7.5" textLength="76.0" lengthAdjust="spacingAndGlyphs" fill="#1a1a1a" stroke="#1a1a1a" stroke-width="0.21" >Colin wrote on Ross Daniel's Wall.</text>
<text transform="rotate(0.05 115.5 316.1)" x="76.0" y="316.1" font-size="7.5" textLength="79.0" lengthAdjust="spacingAndGlyphs" fill="#1a1a1a" stroke="#1a1a1a" stroke-width="0.21" >Colin wrote on Vivek Mitchels Wall.</text>
<path d="M210.7 38.6 C208.9 38.6 208.3 39.4 208.3 41.0 L208.3 81.3 L206.6 83.0 L208.3 84.7 L208.3 126.2 C208.3 127.8 208.9 128.6 210.7 128.6" fill="none" stroke="#1c1c1c" stroke-width="1.9" stroke-linecap="round" stroke-linejoin="round" />
<path d="M210.7 135.0 C208.9 135.0 208.3 135.8 208.3 137.4 L208.3 217.8 L206.6 219.5 L208.3 221.2 L208.3 297.6 C208.3 299.2 208.9 300.0 210.7 300.0" fill="none" stroke="#1c1c1c" stroke-width="1.9" stroke-linecap="round" stroke-linejoin="round" />
<text transform="rotate(0.05 197.8 86.5)" x="191.5" y="86.5" font-size="9.2" textLength="12.5" lengthAdjust="spacingAndGlyphs" fill="#111" stroke="#111" stroke-width="0.21" >632</text>
<text transform="rotate(0.05 197.8 222.5)" x="191.5" y="222.5" font-size="9.2" textLength="12.5" lengthAdjust="spacingAndGlyphs" fill="#111" stroke="#111" stroke-width="0.21" >630</text>
<text transform="rotate(0.05 242.5 44.6)" x="214.0" y="44.6" font-size="7.5" textLength="57.0" lengthAdjust="spacingAndGlyphs" fill="#1a1a1a" stroke="#1a1a1a" stroke-width="0.21" >My 1968 Mustang GT500</text>
<rect x="214.6" y="53.6" width="21.2" height="21.0" rx="0" fill="#fff" stroke="#222" stroke-width="0.9"/>
<g transform="translate(214.60 53.60) scale(1.0095 1.0000)"><g transform="translate(0 2.6) scale(1 0.86)"><path d="M1.6 13 C1.4 11.4 2.4 10.6 4.2 10.2 C6 8.4 8.6 6.6 11.6 6.4 C14.6 6.2 17.4 6.8 18.8 8.6 C19.8 9.6 20 11.4 19.6 13.2 L17.6 13.4" fill="none" stroke="#222" stroke-width="0.9" stroke-linecap="round" stroke-linejoin="round" vector-effect="non-scaling-stroke"/><path d="M14.2 13.8 L7.4 14 M3.4 13.8 L1.6 13" fill="none" stroke="#222" stroke-width="0.9" stroke-linecap="round" stroke-linejoin="round" vector-effect="non-scaling-stroke"/><circle cx="5.4" cy="13.6" r="1.8" fill="#555" stroke="#222" stroke-width="0.9" vector-effect="non-scaling-stroke"/><circle cx="16" cy="13.4" r="1.8" fill="#555" stroke="#222" stroke-width="0.9" vector-effect="non-scaling-stroke"/><circle cx="10.4" cy="14" r="1.2" fill="#777" stroke="#333" stroke-width="0.6" vector-effect="non-scaling-stroke"/><path d="M6.4 10 C8 8.4 9.6 7.4 11.4 7.4 L11.6 10 Z M12.6 7.4 C14.6 7.2 16.4 7.8 17.4 9.6 L12.8 10 Z" fill="none" stroke="#222" stroke-width="0.6" stroke-linecap="round" stroke-linejoin="round" vector-effect="non-scaling-stroke"/><path d="M11.8 10.2 L12 13.6 M16.6 9.8 L16.8 11.6" fill="none" stroke="#222" stroke-width="0.5" stroke-linecap="round" stroke-linejoin="round" vector-effect="non-scaling-stroke"/><path d="M1.8 11.6 L4 11.4 M12.4 10.6 L16 10.4 L16 13 L12.6 13.2 Z" fill="none" stroke="#222" stroke-width="0.5" stroke-linecap="round" stroke-linejoin="round" vector-effect="non-scaling-stroke"/></g></g>
<text transform="rotate(0.05 256.5 58.1)" x="239.0" y="58.1" font-size="7.5" textLength="35.0" lengthAdjust="spacingAndGlyphs" fill="#1a1a1a" stroke="#1a1a1a" stroke-width="0.21" >At Leguna Seca</text>
<text transform="rotate(0.05 287.5 55.0)" x="279.0" y="55.0" font-size="9.2" textLength="17.0" lengthAdjust="spacingAndGlyphs" fill="#111" stroke="#111" stroke-width="0.21" >632a</text>
<line x1="278.5" y1="56.7" x2="296.5" y2="56.7" stroke="#222" stroke-width="0.8"/>
<text transform="rotate(0.05 244.1 66.1)" x="239.0" y="66.1" font-size="7.5" textLength="10.2" lengthAdjust="spacingAndGlyphs" fill="#1a1a1a" stroke="#1a1a1a" stroke-width="0.21" >3:43</text>
<text transform="rotate(0.05 253.5 66.1)" x="253.0" y="66.1" font-size="7.5" textLength="1.0" lengthAdjust="spacingAndGlyphs" fill="#1a1a1a" stroke="#1a1a1a" stroke-width="0.21" >|</text>
<text transform="rotate(0.05 269.7 66.1)" x="258.0" y="66.1" font-size="7.5" textLength="23.4" lengthAdjust="spacingAndGlyphs" fill="#1a1a1a" stroke="#1a1a1a" stroke-width="0.21" >Play video</text>
<text transform="rotate(0.05 252.5 73.6)" x="239.0" y="73.6" font-size="7.5" textLength="27.0" lengthAdjust="spacingAndGlyphs" fill="#1a1a1a" stroke="#1a1a1a" stroke-width="0.21" >3 comments</text>
<text transform="rotate(0.05 261.0 81.1)" x="239.0" y="81.1" font-size="7.5" textLength="44.0" lengthAdjust="spacingAndGlyphs" fill="#1a1a1a" stroke="#1a1a1a" stroke-width="0.21" >15 people liked this</text>
<rect x="214.6" y="92.4" width="21.2" height="21.2" rx="0" fill="#fff" stroke="#222" stroke-width="0.9"/>
<g transform="translate(214.60 92.40) scale(1.0095 1.0095)"><path d="M0.6 5.2 C3 4 7 3.2 10 4.2 C13 5.2 17 7.8 20.4 10.4" fill="none" stroke="#222" stroke-width="0.9" stroke-linecap="round" stroke-linejoin="round" vector-effect="non-scaling-stroke"/><path d="M0.6 4 C3 3 6 2.6 8.6 3 M0.6 8 C2.5 7.4 5 7.4 7.4 8.6 C10 10 14 11.4 18.6 12" fill="none" stroke="#222" stroke-width="0.8" stroke-linecap="round" stroke-linejoin="round" vector-effect="non-scaling-stroke"/><path d="M0.6 11.4 C2 11.8 4 13 5.6 14.6 C8.6 15.4 13.6 15.4 18.6 14.8 C19.6 14 20.2 12.6 20.4 10.4" fill="none" stroke="#222" stroke-width="0.9" stroke-linecap="round" stroke-linejoin="round" vector-effect="non-scaling-stroke"/><path d="M0.8 13.6 C0.8 16.8 2 19 3.4 19 C4.8 19 5.8 16.8 5.6 14.4 C4 13 2 12.4 0.8 13.6 Z" fill="#444" stroke="#222" stroke-width="0.9" stroke-linecap="round" stroke-linejoin="round" vector-effect="non-scaling-stroke"/><ellipse cx="3.2" cy="16" rx="1.1" ry="1.7" fill="#ddd" stroke="none"/><path d="M5.8 17.4 C9.6 18.6 15 18.4 19.8 17.2 L20.4 14" fill="none" stroke="#222" stroke-width="0.9" stroke-linecap="round" stroke-linejoin="round" vector-effect="non-scaling-stroke"/><path d="M7.6 15.8 L17.6 15.6 L17.2 17.4 L8 17.6 Z" fill="#333" stroke="#222" stroke-width="0.6" stroke-linecap="round" stroke-linejoin="round" vector-effect="non-scaling-stroke"/><path d="M6.4 12.6 C8 12.4 9.6 13 10.6 14.2 C9 14.4 7.4 13.8 6.4 12.6 Z M15 13.4 C16.6 13 18.4 13 19.4 13.4 C18.4 14.2 16.4 14.2 15 13.4 Z" fill="#666" stroke="#222" stroke-width="0.7" stroke-linecap="round" stroke-linejoin="round" vector-effect="non-scaling-stroke"/><path d="M3 9.8 C5.6 10.2 9 11.6 11 12.8 M2 6.4 C5 6 8 6.4 10.6 7.8 M4 7.4 C7 7.6 10 8.8 12.6 10.4 M11 5.6 C13.6 7 16 8.6 18 10.4" fill="none" stroke="#222" stroke-width="0.5" stroke-linecap="round" stroke-linejoin="round" vector-effect="non-scaling-stroke"/><path d="M0.6 9.6 C2 9.6 3.6 10.2 5 11.2" fill="none" stroke="#222" stroke-width="0.6" stroke-linecap="round" stroke-linejoin="round" vector-effect="non-scaling-stroke"/></g>
<text transform="rotate(0.05 256.9 97.4)" x="239.0" y="97.4" font-size="7.5" textLength="35.8" lengthAdjust="spacingAndGlyphs" fill="#1a1a1a" stroke="#1a1a1a" stroke-width="0.21" >Various car pics</text>
<text transform="rotate(0.05 287.5 94.0)" x="279.0" y="94.0" font-size="9.2" textLength="17.0" lengthAdjust="spacingAndGlyphs" fill="#111" stroke="#111" stroke-width="0.21" >632b</text>
<line x1="278.5" y1="95.7" x2="296.5" y2="95.7" stroke="#222" stroke-width="0.8"/>
<text transform="rotate(0.05 250.2 104.6)" x="239.0" y="104.6" font-size="7.5" textLength="22.4" lengthAdjust="spacingAndGlyphs" fill="#1a1a1a" stroke="#1a1a1a" stroke-width="0.21" >44 photos</text>
<text transform="rotate(0.05 265.9 104.6)" x="265.4" y="104.6" font-size="7.5" textLength="1.0" lengthAdjust="spacingAndGlyphs" fill="#1a1a1a" stroke="#1a1a1a" stroke-width="0.21" >|</text>
<text transform="rotate(0.05 275.3 104.6)" x="270.4" y="104.6" font-size="7.5" textLength="9.8" lengthAdjust="spacingAndGlyphs" fill="#1a1a1a" stroke="#1a1a1a" stroke-width="0.21" >view</text>
<text transform="rotate(0.05 245.8 112.1)" x="239.0" y="112.1" font-size="7.5" textLength="13.5" lengthAdjust="spacingAndGlyphs" fill="#1a1a1a" stroke="#1a1a1a" stroke-width="0.21" >album</text>
<text transform="rotate(0.05 252.5 120.1)" x="239.0" y="120.1" font-size="7.5" textLength="27.0" lengthAdjust="spacingAndGlyphs" fill="#1a1a1a" stroke="#1a1a1a" stroke-width="0.21" >2 comments</text>
<text transform="rotate(0.05 261.0 127.1)" x="239.0" y="127.1" font-size="7.5" textLength="44.0" lengthAdjust="spacingAndGlyphs" fill="#1a1a1a" stroke="#1a1a1a" stroke-width="0.21" >12 people liked this</text>
<rect x="214.0" y="136.6" width="71.0" height="10.4" rx="0" fill="none" stroke="#222" stroke-width="0.9"/>
<text transform="rotate(0.05 238.6 144.0)" x="217.8" y="144.0" font-size="7.5" textLength="41.6" lengthAdjust="spacingAndGlyphs" fill="#1a1a1a" stroke="#1a1a1a" stroke-width="0.21" >Favorite memories</text>
<rect x="214.5" y="152.4" width="28.1" height="21.1" rx="0" fill="#fff" stroke="#222" stroke-width="0.9"/>
<g transform="translate(214.50 152.40) scale(1.0036 1.0048)"><path d="M3.6 5.4 L14.6 1.4 L21.2 7.6 L9.6 9.2 Z" fill="none" stroke="#222" stroke-width="0.9" stroke-linecap="round" stroke-linejoin="round" vector-effect="non-scaling-stroke"/><path d="M19.4 7.8 L19.8 11.4 M19.2 11.4 L20.6 13.4" fill="none" stroke="#222" stroke-width="0.6" stroke-linecap="round" stroke-linejoin="round" vector-effect="non-scaling-stroke"/><path d="M7.4 8.4 C6.8 10 6.6 12 7.4 13.6 M17.6 8.4 C18 9.6 18 10.6 17.8 11.6" fill="none" stroke="#222" stroke-width="0.7" stroke-linecap="round" stroke-linejoin="round" vector-effect="non-scaling-stroke"/><path d="M7.4 13.6 C8.4 16 10.6 17.4 13 17 C15.4 16.6 17.2 14.6 17.8 11.6" fill="none" stroke="#222" stroke-width="0.8" stroke-linecap="round" stroke-linejoin="round" vector-effect="non-scaling-stroke"/><path d="M10 11.6 C10 10.6 12.4 10.6 12.4 11.6 C12.4 12.6 10 12.6 10 11.6 Z M13.8 11.2 C13.8 10.2 16.2 10.2 16.2 11.2 C16.2 12.2 13.8 12.2 13.8 11.2 Z M12.4 11.4 L13.8 11.2" fill="none" stroke="#222" stroke-width="0.6" stroke-linecap="round" stroke-linejoin="round" vector-effect="non-scaling-stroke"/><path d="M11 14.4 C12.2 15.4 14.4 15.2 15.4 13.8" fill="none" stroke="#222" stroke-width="0.7" stroke-linecap="round" stroke-linejoin="round" vector-effect="non-scaling-stroke"/><path d="M7.4 10 L9.8 11" fill="none" stroke="#222" stroke-width="0.5" stroke-linecap="round" stroke-linejoin="round" vector-effect="non-scaling-stroke"/><path d="M8.6 15.6 C6 16.6 3 17.6 1.6 20.4 M16.4 16 C18.6 17 21.4 18 22.6 20.4" fill="none" stroke="#222" stroke-width="0.8" stroke-linecap="round" stroke-linejoin="round" vector-effect="non-scaling-stroke"/><path d="M10.4 17 L12.6 20.4 L15 17" fill="none" stroke="#222" stroke-width="0.6" stroke-linecap="round" stroke-linejoin="round" vector-effect="non-scaling-stroke"/><path d="M5 17.4 L7 20.4" fill="none" stroke="#222" stroke-width="0.5" stroke-linecap="round" stroke-linejoin="round" vector-effect="non-scaling-stroke"/></g>
<text transform="rotate(0.05 260.0 158.1)" x="246.0" y="158.1" font-size="7.5" textLength="28.0" lengthAdjust="spacingAndGlyphs" fill="#1a1a1a" stroke="#1a1a1a" stroke-width="0.21" >"Graduation!"</text>
<text transform="rotate(0.05 261.0 165.6)" x="246.0" y="165.6" font-size="7.5" textLength="30.0" lengthAdjust="spacingAndGlyphs" fill="#1a1a1a" stroke="#1a1a1a" stroke-width="0.21" >85 comments</text>
<text transform="rotate(0.05 264.5 173.1)" x="246.0" y="173.1" font-size="7.5" textLength="37.0" lengthAdjust="spacingAndGlyphs" fill="#1a1a1a" stroke="#1a1a1a" stroke-width="0.21" >228 people liked</text>
<text transform="rotate(0.05 250.5 180.1)" x="246.0" y="180.1" font-size="7.5" textLength="9.0" lengthAdjust="spacingAndGlyphs" fill="#1a1a1a" stroke="#1a1a1a" stroke-width="0.21" >this.</text>
<text transform="rotate(0.05 228.6 185.3)" x="220.3" y="185.3" font-size="9.2" textLength="16.5" lengthAdjust="spacingAndGlyphs" fill="#111" stroke="#111" stroke-width="0.21" >630a</text>
<line x1="219.8" y1="187.0" x2="237.3" y2="187.0" stroke="#222" stroke-width="0.8"/>
<line x1="214.0" y1="191.0" x2="285.0" y2="191.0" stroke="#222" stroke-width="0.9"/>
<rect x="214.5" y="196.6" width="28.1" height="20.8" rx="0" fill="#fff" stroke="#222" stroke-width="0.9"/>
<g transform="translate(214.50 196.60) scale(1.0036 0.9905)"><path d="M5.4 15 C7.4 13.4 9.4 11 11.6 10.2 C13.6 9.4 16 9.6 18 10.8 C20.4 12.2 22.4 14 24.4 15 Z" fill="#c4c4c4" stroke="#222" stroke-width="0.9" stroke-linecap="round" stroke-linejoin="round" vector-effect="non-scaling-stroke"/><path d="M10 11.4 L9 14.4 M11.6 10.6 L11 14.6 M13.2 10.2 L13.2 14.6 M14.8 10.2 L15.4 14.6 M16.4 10.6 L17.4 14.6 M18 11.4 L19.6 14.6 M8.4 12.8 L7.4 14.6 M19.8 12.6 L21.6 14.8" fill="none" stroke="#222" stroke-width="0.5" stroke-linecap="round" stroke-linejoin="round" vector-effect="non-scaling-stroke"/><path d="M0.8 15.2 C3 14.8 4.4 14.6 5.6 14.8 M24.2 15 C25.4 14.8 26.4 15 27.2 15.2" fill="none" stroke="#222" stroke-width="0.7" stroke-linecap="round" stroke-linejoin="round" vector-effect="non-scaling-stroke"/><path d="M0.8 16.4 C5 15.6 9 17 13 16.2 C17 15.6 22 16.6 27.2 16" fill="none" stroke="#222" stroke-width="0.7" stroke-linecap="round" stroke-linejoin="round" vector-effect="non-scaling-stroke"/><path d="M0.8 18.2 C6 17.4 10 18.8 14 18 C18 17.4 23 18.4 27.2 18" fill="none" stroke="#222" stroke-width="0.6" stroke-linecap="round" stroke-linejoin="round" vector-effect="non-scaling-stroke"/><circle cx="21.2" cy="6.2" r="1.6" fill="none" stroke="#222" stroke-width="0.7" vector-effect="non-scaling-stroke"/></g>
<text transform="rotate(0.05 256.0 202.1)" x="246.0" y="202.1" font-size="7.5" textLength="20.0" lengthAdjust="spacingAndGlyphs" fill="#1a1a1a" stroke="#1a1a1a" stroke-width="0.21" >Climbing</text>
<text transform="rotate(0.05 262.0 209.1)" x="246.0" y="209.1" font-size="7.5" textLength="32.0" lengthAdjust="spacingAndGlyphs" fill="#1a1a1a" stroke="#1a1a1a" stroke-width="0.21" >Kilimanjaro 25</text>
<text transform="rotate(0.05 253.2 216.6)" x="246.0" y="216.6" font-size="7.5" textLength="14.5" lengthAdjust="spacingAndGlyphs" fill="#1a1a1a" stroke="#1a1a1a" stroke-width="0.21" >photos</text>
<text transform="rotate(0.05 263.0 224.1)" x="246.0" y="224.1" font-size="7.5" textLength="34.0" lengthAdjust="spacingAndGlyphs" fill="#1a1a1a" stroke="#1a1a1a" stroke-width="0.21" >Play Slideshow</text>
<text transform="rotate(0.05 228.5 229.5)" x="220.0" y="229.5" font-size="9.2" textLength="17.0" lengthAdjust="spacingAndGlyphs" fill="#111" stroke="#111" stroke-width="0.21" >630b</text>
<line x1="219.5" y1="231.2" x2="237.5" y2="231.2" stroke="#222" stroke-width="0.8"/>
<line x1="214.0" y1="235.0" x2="285.0" y2="235.0" stroke="#222" stroke-width="0.9"/>
<text transform="rotate(0.05 245.2 245.6)" x="214.0" y="245.6" font-size="7.5" textLength="62.5" lengthAdjust="spacingAndGlyphs" fill="#1a1a1a" stroke="#1a1a1a" stroke-width="0.21" >Thanks to all my friends and</text>
<text transform="rotate(0.05 250.5 253.6)" x="214.0" y="253.6" font-size="7.5" textLength="73.0" lengthAdjust="spacingAndGlyphs" fill="#1a1a1a" stroke="#1a1a1a" stroke-width="0.21" >family for support! Couldn't have</text>
<text transform="rotate(0.05 236.0 261.1)" x="214.0" y="261.1" font-size="7.5" textLength="44.0" lengthAdjust="spacingAndGlyphs" fill="#1a1a1a" stroke="#1a1a1a" stroke-width="0.21" >done it without you!</text>
<text transform="rotate(0.05 234.5 268.6)" x="214.0" y="268.6" font-size="7.5" textLength="41.0" lengthAdjust="spacingAndGlyphs" fill="#1a1a1a" stroke="#1a1a1a" stroke-width="0.21" >Jan. 26 at 2:00PM</text>
<text transform="rotate(0.05 229.3 276.1)" x="214.0" y="276.1" font-size="7.5" textLength="30.6" lengthAdjust="spacingAndGlyphs" fill="#1a1a1a" stroke="#1a1a1a" stroke-width="0.21" >22 comments</text>
<text transform="rotate(0.05 249.3 276.1)" x="248.8" y="276.1" font-size="7.5" textLength="1.0" lengthAdjust="spacingAndGlyphs" fill="#1a1a1a" stroke="#1a1a1a" stroke-width="0.21" >|</text>
<text transform="rotate(0.05 262.5 276.1)" x="254.0" y="276.1" font-size="7.5" textLength="17.0" lengthAdjust="spacingAndGlyphs" fill="#1a1a1a" stroke="#1a1a1a" stroke-width="0.21" >view all</text>
<text transform="rotate(0.05 236.5 283.6)" x="214.0" y="283.6" font-size="7.5" textLength="45.0" lengthAdjust="spacingAndGlyphs" fill="#1a1a1a" stroke="#1a1a1a" stroke-width="0.21" >83 people liked this</text>
<text transform="rotate(0.05 228.5 296.0)" x="220.0" y="296.0" font-size="9.2" textLength="17.0" lengthAdjust="spacingAndGlyphs" fill="#111" stroke="#111" stroke-width="0.21" >630c</text>
<line x1="219.5" y1="297.7" x2="237.5" y2="297.7" stroke="#222" stroke-width="0.8"/>
<text transform="rotate(0.05 253.5 328.5)" x="247.0" y="328.5" font-size="9.2" textLength="13.0" lengthAdjust="spacingAndGlyphs" fill="#111" stroke="#111" stroke-width="0.21" >650</text>
<path d="M253.5 320 C253.5 316 249.5 315 249.6 310.5" fill="none" stroke="#222" stroke-width="0.8" stroke-linecap="round" stroke-linejoin="round" />
<path d="M249 308 L248 311.6 L251.4 311.2 Z" fill="#222" stroke="#222" stroke-width="0.5" stroke-linecap="round" stroke-linejoin="round" />
<text class="fig" x="154.5" y="452.5" font-size="13.5" text-anchor="middle" fill="#111" stroke="#111" stroke-width="0.3" textLength="36" lengthAdjust="spacingAndGlyphs">FIG. 6</text>
<rect x="334.5" y="12.0" width="289.1" height="426.6" rx="0" fill="none" stroke="#222" stroke-width="1.3"/>
<rect x="337.5" y="16.0" width="56.5" height="65.6" rx="0" fill="#fff" stroke="#222" stroke-width="1.0"/>
<g transform="translate(337.50 16.00) scale(0.9912 0.9939)"><g transform="translate(27.8 -0.3) scale(1.03 1) translate(-27.6 0)"><path d="M10.6 33 C9.5 24 12 14 20 9.5 C27 5.8 37 7 41.5 13 C45 18 45.5 26 45 33.5" fill="none" stroke="#222" stroke-width="0.9" stroke-linecap="round" stroke-linejoin="round" vector-effect="non-scaling-stroke"/><path d="M13.8 30 C13.5 24 15 19.5 18 17.5 C22 15.5 25 17.5 29 15.5 C33 14 38 15.5 40.5 19 C42.3 22 42.6 26 42.6 30" fill="none" stroke="#222" stroke-width="0.8" stroke-linecap="round" stroke-linejoin="round" vector-effect="non-scaling-stroke"/><path d="M13.8 30 C13.6 38 14 46 17 51 C20 56 24 59.8 28 59.8 C32 59.8 36.5 55.5 39.5 50.5 C42.3 45.5 42.8 38 42.6 30" fill="none" stroke="#222" stroke-width="0.9" stroke-linecap="round" stroke-linejoin="round" vector-effect="non-scaling-stroke"/><path d="M13.6 33 C10.5 31.5 10 35 11 38.5 C11.8 41 13 42.5 14.3 42" fill="none" stroke="#222" stroke-width="0.8" stroke-linecap="round" stroke-linejoin="round" vector-effect="non-scaling-stroke"/><path d="M42.8 33 C45.8 31.5 46.5 35 45.4 38.5 C44.6 41 43.4 42.5 42.2 42" fill="none" stroke="#222" stroke-width="0.8" stroke-linecap="round" stroke-linejoin="round" vector-effect="non-scaling-stroke"/><path d="M17.5 32.8 C20 31.2 23.5 31.2 26 32.4" fill="none" stroke="#222" stroke-width="1.0" stroke-linecap="round" stroke-linejoin="round" vector-effect="non-scaling-stroke"/><path d="M31.5 32.4 C34 31.2 37.5 31.2 40 32.8" fill="none" stroke="#222" stroke-width="1.0" stroke-linecap="round" stroke-linejoin="round" vector-effect="non-scaling-stroke"/><path d="M19 35.8 C21 34.2 24 34.2 26 36 C24 37 21 37 19 35.8 Z" fill="#222" stroke="#222" stroke-width="0.7" stroke-linecap="round" stroke-linejoin="round" vector-effect="non-scaling-stroke"/><path d="M32 36 C34 34.2 37 34.2 39 35.8 C37 37 34 37 32 36 Z" fill="#222" stroke="#222" stroke-width="0.7" stroke-linecap="round" stroke-linejoin="round" vector-effect="non-scaling-stroke"/><path d="M29.6 36 C29 40 27 43.4 26 45.6 C27 47 29.8 47 31.8 46.2" fill="none" stroke="#222" stroke-width="0.8" stroke-linecap="round" stroke-linejoin="round" vector-effect="non-scaling-stroke"/><path d="M22.2 50 C25 50.8 31 50.6 34.2 49.4" fill="none" stroke="#222" stroke-width="1.0" stroke-linecap="round" stroke-linejoin="round" vector-effect="non-scaling-stroke"/><path d="M24.5 51.8 C26.5 53.6 30.5 53.4 32.3 51.5" fill="none" stroke="#222" stroke-width="0.8" stroke-linecap="round" stroke-linejoin="round" vector-effect="non-scaling-stroke"/></g><path d="M17.7 53.4 C17.7 58 17.4 62 16.6 66" fill="none" stroke="#222" stroke-width="0.8" stroke-linecap="round" stroke-linejoin="round" vector-effect="non-scaling-stroke"/><path d="M38.8 52.9 C39 58 39.2 62 39.6 66" fill="none" stroke="#222" stroke-width="0.8" stroke-linecap="round" stroke-linejoin="round" vector-effect="non-scaling-stroke"/><path d="M17.4 56.5 C12 59.5 5 62 0.5 64.6" fill="none" stroke="#222" stroke-width="0.9" stroke-linecap="round" stroke-linejoin="round" vector-effect="non-scaling-stroke"/><path d="M38.6 56 C44 59 51 62 56.5 64.6" fill="none" stroke="#222" stroke-width="0.9" stroke-linecap="round" stroke-linejoin="round" vector-effect="non-scaling-stroke"/><path d="M17.8 56.5 L25 66" fill="none" stroke="#222" stroke-width="0.8" stroke-linecap="round" stroke-linejoin="round" vector-effect="non-scaling-stroke"/><path d="M38.2 55.5 L31.2 66" fill="none" stroke="#222" stroke-width="0.8" stroke-linecap="round" stroke-linejoin="round" vector-effect="non-scaling-stroke"/><path d="M20.5 60.5 L21.8 66" fill="none" stroke="#222" stroke-width="0.6" stroke-linecap="round" stroke-linejoin="round" vector-effect="non-scaling-stroke"/><path d="M35.6 60 L34.5 66" fill="none" stroke="#222" stroke-width="0.6" stroke-linecap="round" stroke-linejoin="round" vector-effect="non-scaling-stroke"/></g>
<text transform="rotate(0.05 423.2 27.9)" x="397.4" y="27.9" font-size="9.4" textLength="51.6" lengthAdjust="spacingAndGlyphs" fill="#1a1a1a" stroke="#1a1a1a" stroke-width="0.21" >Colin Lee Baker</text>
<text transform="rotate(0.05 443.9 36.0)" x="397.6" y="36.0" font-size="7.5" textLength="92.6" lengthAdjust="spacingAndGlyphs" fill="#1a1a1a" stroke="#1a1a1a" stroke-width="0.21" >Personal Loan Agent at International Bank</text>
<text transform="rotate(0.05 494.3 36.0)" x="493.8" y="36.0" font-size="7.5" textLength="1.0" lengthAdjust="spacingAndGlyphs" fill="#1a1a1a" stroke="#1a1a1a" stroke-width="0.21" >|</text>
<text transform="rotate(0.05 455.8 44.2)" x="397.6" y="44.2" font-size="7.5" textLength="116.4" lengthAdjust="spacingAndGlyphs" fill="#1a1a1a" stroke="#1a1a1a" stroke-width="0.21" >Studied Electrical Engineering at Stanford University</text>
<text transform="rotate(0.05 518.4 44.2)" x="517.9" y="44.2" font-size="7.5" textLength="1.0" lengthAdjust="spacingAndGlyphs" fill="#1a1a1a" stroke="#1a1a1a" stroke-width="0.21" >|</text>
<text transform="rotate(0.05 421.9 52.3)" x="397.6" y="52.3" font-size="7.5" textLength="48.6" lengthAdjust="spacingAndGlyphs" fill="#1a1a1a" stroke="#1a1a1a" stroke-width="0.21" >Lives in San Jose, CA</text>
<text transform="rotate(0.05 450.2 52.3)" x="449.7" y="52.3" font-size="7.5" textLength="1.0" lengthAdjust="spacingAndGlyphs" fill="#1a1a1a" stroke="#1a1a1a" stroke-width="0.21" >|</text>
<text transform="rotate(0.05 474.3 52.3)" x="454.8" y="52.3" font-size="7.5" textLength="39.0" lengthAdjust="spacingAndGlyphs" fill="#1a1a1a" stroke="#1a1a1a" stroke-width="0.21" >From Medina, OH</text>
<text transform="rotate(0.05 498.8 52.3)" x="498.3" y="52.3" font-size="7.5" textLength="1.0" lengthAdjust="spacingAndGlyphs" fill="#1a1a1a" stroke="#1a1a1a" stroke-width="0.21" >|</text>
<path d="M523.1 30.0 C524.9 30.0 525.5 30.8 525.5 32.4 L525.5 40.9 L527.2 42.6 L525.5 44.3 L525.5 51.8 C525.5 53.4 524.9 54.2 523.1 54.2" fill="none" stroke="#1c1c1c" stroke-width="1.6" stroke-linecap="round" stroke-linejoin="round" />
<text transform="rotate(0.05 536.1 45.7)" x="529.7" y="45.7" font-size="9.2" textLength="12.8" lengthAdjust="spacingAndGlyphs" fill="#111" stroke="#111" stroke-width="0.21" >404</text>
<path d="M394.8 59.4 C397.5 57.8 398.4 58.9 399.3 60.1 S401.1 62.4 403.8 60.8" fill="none" stroke="#222" stroke-width="0.7" stroke-linecap="round" stroke-linejoin="round" />
<text transform="rotate(0.05 411.3 63.8)" x="405.0" y="63.8" font-size="9.2" textLength="12.6" lengthAdjust="spacingAndGlyphs" fill="#111" stroke="#111" stroke-width="0.21" >403</text>
<text transform="rotate(0.05 466.9 63.8)" x="460.7" y="63.8" font-size="9.2" textLength="12.5" lengthAdjust="spacingAndGlyphs" fill="#111" stroke="#111" stroke-width="0.21" >440</text>
<path d="M474.0 61.0 C477.0 59.4 478.0 60.0 479.0 61.2 S481.0 63.0 484.0 61.4" fill="none" stroke="#222" stroke-width="0.7" stroke-linecap="round" stroke-linejoin="round" />
<text transform="rotate(0.05 488.9 63.6)" x="485.2" y="63.6" font-size="7.0" textLength="7.4" lengthAdjust="spacingAndGlyphs" fill="#111" stroke="#111" stroke-width="0.21" >edit</text>
<rect x="495.2" y="57.4" width="8.4" height="8.2" rx="0" fill="#fff" stroke="#222" stroke-width="0.8"/>
<g transform="translate(495.20 57.40) scale(1.0500 1.0250)"><path d="M1.8 6.2 L2.2 4.8 L5.4 1.6 L6.4 2.6 L3.2 5.8 Z M2.2 4.8 L3.2 5.8" fill="none" stroke="#222" stroke-width="0.6" stroke-linecap="round" stroke-linejoin="round" vector-effect="non-scaling-stroke"/></g>
<rect x="397.4" y="70.6" width="25.0" height="20.9" rx="0" fill="#fff" stroke="#222" stroke-width="0.9"/>
<g transform="translate(397.40 70.60) scale(1.0417 0.9500)"><path d="M2.6 3.6 C3 1.8 5.4 1.2 7 2.2 C8.4 3 8.6 5 7.8 6.4 C8 7.6 7.6 9 6.8 9.8 C6 10.6 4.6 10.4 3.8 9.6" fill="none" stroke="#222" stroke-width="0.9" stroke-linecap="round" stroke-linejoin="round" vector-effect="non-scaling-stroke"/><path d="M2.6 3.6 C2 5 2.4 6.6 3 7.6 M3.2 3 C4.6 2.6 6 3 7 4 M3.4 4.4 C4.6 4 5.8 4.4 6.6 5.2" fill="none" stroke="#222" stroke-width="0.6" stroke-linecap="round" stroke-linejoin="round" vector-effect="non-scaling-stroke"/><path d="M4.4 6.4 L5.6 6.6 M4.4 8.4 L5.8 8.4" fill="none" stroke="#222" stroke-width="0.7" stroke-linecap="round" stroke-linejoin="round" vector-effect="non-scaling-stroke"/><path d="M7.2 10 C9.6 10.6 11.6 12.2 12.8 14.2 C13.6 15.6 14 17 14.2 18.4" fill="none" stroke="#222" stroke-width="0.9" stroke-linecap="round" stroke-linejoin="round" vector-effect="non-scaling-stroke"/><path d="M3.4 10 C2.4 12 1.6 15 1.4 22 M5 11 C5.6 14 5.6 18 5.2 22" fill="none" stroke="#222" stroke-width="0.7" stroke-linecap="round" stroke-linejoin="round" vector-effect="non-scaling-stroke"/><path d="M8.4 12.4 C9 15 9.4 18.6 9.4 22 M11.6 14 C12 16.6 12.2 19.4 12.2 22" fill="none" stroke="#222" stroke-width="0.5" stroke-linecap="round" stroke-linejoin="round" vector-effect="non-scaling-stroke"/><path d="M14.4 16.2 C14 13 16 10.6 18.6 10.6 C21.4 10.6 23 13 22.6 16 C22.4 18.4 21 20.4 18.8 20.6 C16.4 20.8 14.8 18.8 14.4 16.2 Z" fill="none" stroke="#222" stroke-width="0.9" stroke-linecap="round" stroke-linejoin="round" vector-effect="non-scaling-stroke"/><path d="M14.6 14.6 C16.6 14.4 19 13.6 20.4 11.6 M14.8 13 C16.4 12.4 18 11.8 19 10.8 M22.4 14.4 C23.2 16.4 23 19 22 21.4 M21 12 C22.4 13.4 23.2 15.4 23.4 17" fill="none" stroke="#222" stroke-width="0.6" stroke-linecap="round" stroke-linejoin="round" vector-effect="non-scaling-stroke"/><path d="M16.2 16.4 L17.6 16.2 M19.2 16 L20.6 15.8 M17.2 18.6 L19.4 18.4" fill="none" stroke="#222" stroke-width="0.7" stroke-linecap="round" stroke-linejoin="round" vector-effect="non-scaling-stroke"/></g>
<rect x="424.6" y="70.6" width="24.4" height="20.9" rx="0" fill="#fff" stroke="#222" stroke-width="0.9"/>
<g transform="translate(424.60 70.60) scale(1.0167 0.9500)"><path d="M2.2 0.6 C1.6 4 1.6 8 2.2 11.6 C2.8 14.6 4 17 5.6 18.6 C7.2 20.2 9 21 10.4 20.8 C12.4 20.6 14.4 18.6 16 15.8 C17.2 13.6 17.8 10.4 18 7.4 C18.2 4.4 17.8 2 17.2 0.6" fill="none" stroke="#222" stroke-width="0.9" stroke-linecap="round" stroke-linejoin="round" vector-effect="non-scaling-stroke"/><path d="M3 1 C5.6 2.4 8 1.4 10.4 2 C12.8 2.6 15 1.8 17 1" fill="none" stroke="#222" stroke-width="0.6" stroke-linecap="round" stroke-linejoin="round" vector-effect="non-scaling-stroke"/><path d="M4.6 8.6 C5.8 8 7.4 8.2 8.4 9 M11.6 8.4 C12.8 7.6 14.6 7.4 16 8" fill="none" stroke="#222" stroke-width="1.0" stroke-linecap="round" stroke-linejoin="round" vector-effect="non-scaling-stroke"/><path d="M5.2 10.4 C6 9.6 7.6 9.8 8.2 10.8 C7.4 11.4 6 11.2 5.2 10.4 Z M12 10 C12.8 9 14.6 9 15.4 9.8 C14.6 10.8 13 10.8 12 10 Z" fill="#222" stroke="#222" stroke-width="0.6" stroke-linecap="round" stroke-linejoin="round" vector-effect="non-scaling-stroke"/><path d="M10.2 10.4 C10 12 9.6 13.4 9.2 14.4 C9.8 15 10.8 15 11.6 14.6" fill="none" stroke="#222" stroke-width="0.6" stroke-linecap="round" stroke-linejoin="round" vector-effect="non-scaling-stroke"/><path d="M8.4 17 C9.6 17.4 11.6 17.2 12.8 16.4" fill="none" stroke="#222" stroke-width="0.9" stroke-linecap="round" stroke-linejoin="round" vector-effect="non-scaling-stroke"/><path d="M9.6 18.6 L11.6 18.4" fill="none" stroke="#222" stroke-width="0.5" stroke-linecap="round" stroke-linejoin="round" vector-effect="non-scaling-stroke"/><path d="M18 7.4 C19.4 7 19.8 9.4 18.8 11 C18.4 11.6 18 11.8 17.6 11.8" fill="none" stroke="#222" stroke-width="0.7" stroke-linecap="round" stroke-linejoin="round" vector-effect="non-scaling-stroke"/><path d="M16 18 C18.4 18.6 21 19.6 23.4 21.4" fill="none" stroke="#222" stroke-width="0.8" stroke-linecap="round" stroke-linejoin="round" vector-effect="non-scaling-stroke"/><path d="M3.6 17.6 C2.6 18.4 1.4 19.4 0.6 20.6" fill="none" stroke="#222" stroke-width="0.7" stroke-linecap="round" stroke-linejoin="round" vector-effect="non-scaling-stroke"/></g>
<rect x="450.6" y="70.6" width="24.6" height="20.9" rx="0" fill="#fff" stroke="#222" stroke-width="0.9"/>
<g transform="translate(450.60 70.60) scale(1.0250 0.9500)"><g transform="translate(-0.6 -0.2) scale(1.04 1.06)"><path d="M8 3.2 C9 3 9.8 3.8 9.6 4.8 C9.4 5.6 8.8 6 8.8 6.4 C10.2 6.8 11 7.6 11.2 9.6 L11.6 13 L10.4 13.2 L10.2 11 L10 14 L10.2 20.4 L8.8 20.4 L8.4 15 L7.6 20.4 L6.2 20.4 L6.4 14 L6.2 11 L5.2 9.6 L4 8.6 L4.4 7.2 L5.8 8.2 C6.2 7.2 6.6 6.8 7.4 6.4 C7.2 5.8 6.8 5.2 6.8 4.4 C6.8 3.6 7.4 3.2 8 3.2 Z" fill="#f4f4f4" stroke="#222" stroke-width="0.8" stroke-linecap="round" stroke-linejoin="round" vector-effect="non-scaling-stroke"/><path d="M15.6 3.4 C16.6 3.2 17.4 4 17.2 5 C17 5.8 16.4 6.2 16.4 6.6 C17.8 7 18.8 7.8 19 9.8 L19.8 12.6 L18.8 13.2 L17.8 11 L17.6 14 L18 20.4 L16.6 20.4 L16 15 L15.2 20.4 L13.8 20.4 L14.2 14 L14 11 L13 12.4 L12 11.8 L13.2 9.2 C13.4 7.8 14.2 7 15.2 6.6 C15 6 14.6 5.4 14.6 4.6 C14.6 3.8 15 3.4 15.6 3.4 Z" fill="#f4f4f4" stroke="#222" stroke-width="0.8" stroke-linecap="round" stroke-linejoin="round" vector-effect="non-scaling-stroke"/></g></g>
<rect x="477.4" y="70.6" width="24.7" height="20.9" rx="0" fill="#fff" stroke="#222" stroke-width="0.9"/>
<g transform="translate(477.40 70.60) scale(1.0292 0.9500)"><path d="M4.6 6 C4.8 3.4 7 1.4 10 0.8 C14 0 18.4 1.6 19.8 5.4 C20.6 8 20 11 18.6 13.4" fill="none" stroke="#222" stroke-width="0.9" stroke-linecap="round" stroke-linejoin="round" vector-effect="non-scaling-stroke"/><path d="M4.6 6 C4.4 7.6 4.2 9 3.8 10.4 C3.6 11.4 3.2 12.2 3.4 12.8 L4.6 13.2 C4.4 14.4 4.6 15.2 5 16 C5 17.4 5.4 18.6 6.6 19.2 C8.6 19.8 11 18.6 12.6 17 C13.6 16 14.2 14.8 14.6 13.6" fill="none" stroke="#222" stroke-width="0.8" stroke-linecap="round" stroke-linejoin="round" vector-effect="non-scaling-stroke"/><path d="M4.8 5.6 C6.4 5.8 7.6 5 8.4 4 C9.4 5.4 11 6 12.6 5.8 C13.4 7 14.6 8 15.6 8.4 M8.4 4 C9.6 2.6 11.6 2 13.4 2.4" fill="none" stroke="#222" stroke-width="0.6" stroke-linecap="round" stroke-linejoin="round" vector-effect="non-scaling-stroke"/><path d="M4.8 8 L6.6 8.2 M9 8.6 L11.6 8.4" fill="none" stroke="#222" stroke-width="1.1" stroke-linecap="round" stroke-linejoin="round" vector-effect="non-scaling-stroke"/><path d="M5.4 9.6 C5.8 9.2 6.4 9.4 6.6 9.8 M9.4 10 C10 9.6 10.8 9.6 11.2 10.2" fill="none" stroke="#222" stroke-width="0.7" stroke-linecap="round" stroke-linejoin="round" vector-effect="non-scaling-stroke"/><path d="M5.6 15.6 C6.4 16 7.6 16 8.4 15.6" fill="none" stroke="#222" stroke-width="0.9" stroke-linecap="round" stroke-linejoin="round" vector-effect="non-scaling-stroke"/><path d="M7 10.4 L5.6 12.6" fill="none" stroke="#222" stroke-width="0.5" stroke-linecap="round" stroke-linejoin="round" vector-effect="non-scaling-stroke"/><path d="M15.4 9.4 C16.6 8.6 17.6 10 17 11.6 C16.6 12.8 15.6 13.6 14.8 13.4 M15.6 10.4 C16.2 10.2 16.4 11 16 11.8" fill="none" stroke="#222" stroke-width="0.7" stroke-linecap="round" stroke-linejoin="round" vector-effect="non-scaling-stroke"/><path d="M12.6 17 C12.8 18.8 12.4 20.4 11.6 22 M15.4 13.6 C16.4 16.6 18.6 19.4 23.4 21" fill="none" stroke="#222" stroke-width="0.9" stroke-linecap="round" stroke-linejoin="round" vector-effect="non-scaling-stroke"/></g>
<path d="M504.4 69.0 C506.2 69.0 506.8 69.8 506.8 71.4 L506.8 79.3 L508.5 81.0 L506.8 82.7 L506.8 90.8 C506.8 92.4 506.2 93.2 504.4 93.2" fill="none" stroke="#1c1c1c" stroke-width="1.6" stroke-linecap="round" stroke-linejoin="round" />
<text transform="rotate(0.05 517.1 84.0)" x="510.8" y="84.0" font-size="9.2" textLength="12.6" lengthAdjust="spacingAndGlyphs" fill="#111" stroke="#111" stroke-width="0.21" >405</text>
<text transform="rotate(0.05 364.3 92.3)" x="337.8" y="92.3" font-size="7.5" textLength="53.0" lengthAdjust="spacingAndGlyphs" fill="#1a1a1a" stroke="#1a1a1a" stroke-width="0.21" >View Photos of Me (57)</text>
<text transform="rotate(0.05 354.1 102.6)" x="337.8" y="102.6" font-size="7.5" textLength="32.6" lengthAdjust="spacingAndGlyphs" fill="#1a1a1a" stroke="#1a1a1a" stroke-width="0.21" >Edit My Profile</text>
<text transform="rotate(0.05 363.2 120.6)" x="337.8" y="120.6" font-size="7.5" textLength="50.8" lengthAdjust="spacingAndGlyphs" fill="#1a1a1a" stroke="#1a1a1a" stroke-width="0.21" >Write something about</text>
<text transform="rotate(0.05 347.2 128.8)" x="337.8" y="128.8" font-size="7.5" textLength="18.8" lengthAdjust="spacingAndGlyphs" fill="#1a1a1a" stroke="#1a1a1a" stroke-width="0.21" >yourself.</text>
<text transform="rotate(0.05 350.4 146.6)" x="337.8" y="146.6" font-size="7.5" textLength="25.2" lengthAdjust="spacingAndGlyphs" fill="#1a1a1a" stroke="#1a1a1a" stroke-width="0.21" >Information</text>
<text transform="rotate(0.05 359.9 159.1)" x="337.8" y="159.1" font-size="7.5" textLength="44.2" lengthAdjust="spacingAndGlyphs" fill="#1a1a1a" stroke="#1a1a1a" stroke-width="0.21" >Relationship Status:</text>
<text transform="rotate(0.05 356.2 167.4)" x="337.8" y="167.4" font-size="7.5" textLength="36.8" lengthAdjust="spacingAndGlyphs" fill="#1a1a1a" stroke="#1a1a1a" stroke-width="0.21" >In a Relationship</text>
<text transform="rotate(0.05 347.7 180.6)" x="337.8" y="180.6" font-size="7.5" textLength="19.8" lengthAdjust="spacingAndGlyphs" fill="#1a1a1a" stroke="#1a1a1a" stroke-width="0.21" >Birthday:</text>
<text transform="rotate(0.05 355.7 188.8)" x="337.8" y="188.8" font-size="7.5" textLength="35.8" lengthAdjust="spacingAndGlyphs" fill="#1a1a1a" stroke="#1a1a1a" stroke-width="0.21" >March 23, 1981</text>
<text transform="rotate(0.05 351.9 201.6)" x="337.8" y="201.6" font-size="7.5" textLength="28.2" lengthAdjust="spacingAndGlyphs" fill="#1a1a1a" stroke="#1a1a1a" stroke-width="0.21" >Current City:</text>
<text transform="rotate(0.05 355.2 209.8)" x="337.8" y="209.8" font-size="7.5" textLength="34.8" lengthAdjust="spacingAndGlyphs" fill="#1a1a1a" stroke="#1a1a1a" stroke-width="0.21" >Santa Clara, CA</text>
<text transform="rotate(0.05 350.2 222.8)" x="337.8" y="222.8" font-size="7.5" textLength="24.8" lengthAdjust="spacingAndGlyphs" fill="#1a1a1a" stroke="#1a1a1a" stroke-width="0.21" >Hometown:</text>
<text transform="rotate(0.05 351.2 230.8)" x="337.8" y="230.8" font-size="7.5" textLength="26.8" lengthAdjust="spacingAndGlyphs" fill="#1a1a1a" stroke="#1a1a1a" stroke-width="0.21" >Medina, OH</text>
<text transform="rotate(0.05 351.5 305.5)" x="345.0" y="305.5" font-size="9.2" textLength="13.0" lengthAdjust="spacingAndGlyphs" fill="#111" stroke="#111" stroke-width="0.21" >428</text>
<path d="M351.6 308.4 C349 310.4 347.6 312.6 347 315.6" fill="none" stroke="#222" stroke-width="0.7" stroke-linecap="round" stroke-linejoin="round" />
<text transform="rotate(0.05 346.4 320.9)" x="337.8" y="320.9" font-size="7.5" textLength="17.2" lengthAdjust="spacingAndGlyphs" fill="#1a1a1a" stroke="#1a1a1a" stroke-width="0.21" >Friends</text>
<text transform="rotate(0.05 350.9 330.6)" x="337.8" y="330.6" font-size="7.5" textLength="26.2" lengthAdjust="spacingAndGlyphs" fill="#1a1a1a" stroke="#1a1a1a" stroke-width="0.21" >188 friends</text>
<text transform="rotate(0.05 387.1 330.6)" x="379.2" y="330.6" font-size="7.5" textLength="15.8" lengthAdjust="spacingAndGlyphs" fill="#1a1a1a" stroke="#1a1a1a" stroke-width="0.21" >See All</text>
<rect x="338.2" y="333.6" width="17.2" height="18.0" rx="0" fill="#fff" stroke="#222" stroke-width="0.9"/>
<g transform="translate(338.20 333.60) scale(0.9556 1.0000)"><path d="M5.6 7 C5.6 5 7.6 3.8 10.4 4 C13.6 4.2 16 6.4 16 9.6 C16 11.6 16 13.6 15.8 16" fill="none" stroke="#222" stroke-width="0.9" stroke-linecap="round" stroke-linejoin="round" vector-effect="non-scaling-stroke"/><path d="M5.6 7 C5.2 8.2 4.8 9.4 4.2 11 L5.2 11.6 C5.2 12.6 5.4 13.4 5.8 14 C6 15.4 6.8 16.2 8 16.2 C9.4 16.2 10.6 15.4 11.4 14.2" fill="none" stroke="#222" stroke-width="0.8" stroke-linecap="round" stroke-linejoin="round" vector-effect="non-scaling-stroke"/><path d="M6.4 6.4 C9 6.6 12 8 14.4 10.4 M7.6 5.2 C10.4 5.4 13.4 7 15.4 9.4 M9.6 8 C11.6 9 13.4 10.8 14.6 13 M11.4 10.4 C12.8 11.6 13.8 13.4 14.4 15.4" fill="none" stroke="#222" stroke-width="0.6" stroke-linecap="round" stroke-linejoin="round" vector-effect="non-scaling-stroke"/><path d="M6.2 9.2 L7.8 9.2" fill="none" stroke="#222" stroke-width="1.2" stroke-linecap="round" stroke-linejoin="round" vector-effect="non-scaling-stroke"/><path d="M6 13.6 L7.4 13.6" fill="none" stroke="#222" stroke-width="0.8" stroke-linecap="round" stroke-linejoin="round" vector-effect="non-scaling-stroke"/><path d="M10.8 9.8 C10 9.6 9.8 11.4 10.8 12" fill="none" stroke="#222" stroke-width="0.6" stroke-linecap="round" stroke-linejoin="round" vector-effect="non-scaling-stroke"/><path d="M11.4 14.2 C11.6 15.4 12 16.6 12.6 18 M8 16.4 C8 17 8.2 17.6 8.4 18" fill="none" stroke="#222" stroke-width="0.7" stroke-linecap="round" stroke-linejoin="round" vector-effect="non-scaling-stroke"/></g>
<rect x="357.6" y="333.6" width="17.4" height="18.0" rx="0" fill="#fff" stroke="#222" stroke-width="0.9"/>
<g transform="translate(357.60 333.60) scale(0.9667 1.0000)"><path d="M2 16.6 C2.8 13 2.6 9.6 3.4 7 C4.4 3.8 6.6 2.2 9 2.2 C11.6 2.2 13.8 4 14.6 7 C15.4 9.8 15.2 13 16.2 16.6" fill="none" stroke="#222" stroke-width="0.9" stroke-linecap="round" stroke-linejoin="round" vector-effect="non-scaling-stroke"/><path d="M6.2 9 C6.2 7 7.4 5.8 9.1 5.8 C10.8 5.8 12 7 12 9 C12 11.6 10.8 14 9.1 14 C7.4 14 6.2 11.6 6.2 9 Z" fill="none" stroke="#222" stroke-width="0.8" stroke-linecap="round" stroke-linejoin="round" vector-effect="non-scaling-stroke"/><path d="M6.4 7.8 C8 7.6 9.8 6.8 10.6 5.9 M5 10 C5 12.6 5.4 14.6 6 16.6 M13.2 10 C13.2 12.6 12.8 14.6 12.2 16.6" fill="none" stroke="#222" stroke-width="0.6" stroke-linecap="round" stroke-linejoin="round" vector-effect="non-scaling-stroke"/><path d="M7.2 8.9 L8.4 8.9 M9.9 8.9 L11.1 8.9" fill="none" stroke="#222" stroke-width="1.2" stroke-linecap="round" stroke-linejoin="round" vector-effect="non-scaling-stroke"/><path d="M8.5 12 L9.8 12" fill="none" stroke="#222" stroke-width="1.1" stroke-linecap="round" stroke-linejoin="round" vector-effect="non-scaling-stroke"/><path d="M9.1 9.6 L9.1 10.8" fill="none" stroke="#222" stroke-width="0.5" stroke-linecap="round" stroke-linejoin="round" vector-effect="non-scaling-stroke"/><path d="M7.6 14.2 C7 15.4 5.6 16.2 4 16.8 M10.6 14.2 C11.2 15.4 12.6 16.2 14.2 16.8 M2 17 L16.2 17" fill="none" stroke="#222" stroke-width="0.7" stroke-linecap="round" stroke-linejoin="round" vector-effect="non-scaling-stroke"/></g>
<rect x="377.0" y="333.6" width="18.0" height="18.0" rx="0" fill="#fff" stroke="#222" stroke-width="0.9"/>
<g transform="translate(377.00 333.60) scale(1.0000 1.0000)"><path d="M4.2 5.6 C4 3.2 6 1.4 8.6 1.4 C11.4 1.4 13 3.6 12.8 6.2 C12.6 7.6 12.2 8.8 11.6 9.8" fill="none" stroke="#222" stroke-width="0.9" stroke-linecap="round" stroke-linejoin="round" vector-effect="non-scaling-stroke"/><path d="M4.2 5.6 C4 6.6 3.8 7.4 3.6 8 L4.4 8.4 C4.4 9.4 4.6 10.2 5.2 10.8 C6 11.6 7.4 11.8 8.6 11.2 C9.8 10.6 10.8 9.4 11.2 8.2" fill="none" stroke="#222" stroke-width="0.8" stroke-linecap="round" stroke-linejoin="round" vector-effect="non-scaling-stroke"/><path d="M4.6 4.8 C6 4.8 7.2 4 8 3 C9.4 4.4 11.2 5 12.6 5.2 M8.4 2.2 C10 2.2 11.4 3 12.2 4.2" fill="none" stroke="#222" stroke-width="0.7" stroke-linecap="round" stroke-linejoin="round" vector-effect="non-scaling-stroke"/><path d="M5 6 L6.4 6.2 M8 6.4 L9.6 6.2" fill="none" stroke="#222" stroke-width="1.1" stroke-linecap="round" stroke-linejoin="round" vector-effect="non-scaling-stroke"/><path d="M5.6 9.6 L7.2 9.8" fill="none" stroke="#222" stroke-width="0.8" stroke-linecap="round" stroke-linejoin="round" vector-effect="non-scaling-stroke"/><path d="M6.8 6.8 L6 8.4" fill="none" stroke="#222" stroke-width="0.5" stroke-linecap="round" stroke-linejoin="round" vector-effect="non-scaling-stroke"/><path d="M11.2 6 C12.2 5.6 12.6 7.2 11.6 8.4" fill="none" stroke="#222" stroke-width="0.6" stroke-linecap="round" stroke-linejoin="round" vector-effect="non-scaling-stroke"/><path d="M8.6 11.4 C8.4 12.4 7.6 13.2 6.6 13.6 L7.4 15.6 L9.4 13.4 M11.6 9.8 C13.4 11 16 12.2 17.6 13 M6.6 13.6 C5 14.4 3.6 15.6 3 17.6 M9.4 13.4 L11.6 17.6 M12.6 11 L14 17.6" fill="none" stroke="#222" stroke-width="0.8" stroke-linecap="round" stroke-linejoin="round" vector-effect="non-scaling-stroke"/><path d="M6.6 13.8 L7.6 17.6" fill="none" stroke="#222" stroke-width="1.2" stroke-linecap="round" stroke-linejoin="round" vector-effect="non-scaling-stroke"/></g>
<text transform="rotate(0.05 342.3 358.6)" x="337.8" y="358.6" font-size="7.5" textLength="9.0" lengthAdjust="spacingAndGlyphs" fill="#1a1a1a" stroke="#1a1a1a" stroke-width="0.21" >Dan</text>
<text transform="rotate(0.05 341.6 366.6)" x="337.8" y="366.6" font-size="7.5" textLength="7.5" lengthAdjust="spacingAndGlyphs" fill="#1a1a1a" stroke="#1a1a1a" stroke-width="0.21" >Hill</text>
<text transform="rotate(0.05 363.1 358.6)" x="357.6" y="358.6" font-size="7.5" textLength="11.0" lengthAdjust="spacingAndGlyphs" fill="#1a1a1a" stroke="#1a1a1a" stroke-width="0.21" >Sally</text>
<text transform="rotate(0.05 365.3 366.6)" x="357.6" y="366.6" font-size="7.5" textLength="15.4" lengthAdjust="spacingAndGlyphs" fill="#1a1a1a" stroke="#1a1a1a" stroke-width="0.21" >Jacobs</text>
<text transform="rotate(0.05 381.2 358.6)" x="377.0" y="358.6" font-size="7.5" textLength="8.5" lengthAdjust="spacingAndGlyphs" fill="#1a1a1a" stroke="#1a1a1a" stroke-width="0.21" >Ben</text>
<text transform="rotate(0.05 385.5 366.6)" x="377.0" y="366.6" font-size="7.5" textLength="17.0" lengthAdjust="spacingAndGlyphs" fill="#1a1a1a" stroke="#1a1a1a" stroke-width="0.21" >Shuster</text>
<path d="M349.4 352.4 C351 357.4 348.4 361.4 351.4 367.4" fill="none" stroke="#222" stroke-width="0.7" stroke-linecap="round" stroke-linejoin="round" />
<text transform="rotate(0.05 351.5 375.5)" x="345.0" y="375.5" font-size="9.2" textLength="13.0" lengthAdjust="spacingAndGlyphs" fill="#111" stroke="#111" stroke-width="0.21" >429</text>
<rect x="338.2" y="389.6" width="17.2" height="18.0" rx="0" fill="#fff" stroke="#222" stroke-width="0.9"/>
<g transform="translate(338.20 389.60) scale(0.9556 1.0000)"><path d="M4.6 8 C4.2 4.6 6.6 2 10 2 C13.6 2 16 4.8 15.6 8.6 C15.4 11.6 13.6 14.6 10.8 15.2 C8.4 15.6 6.4 14 5.4 11.6 C5 10.6 4.8 9.4 4.6 8 Z" fill="none" stroke="#222" stroke-width="0.9" stroke-linecap="round" stroke-linejoin="round" vector-effect="non-scaling-stroke"/><path d="M5 7 C7 7.4 9 6.4 10 4.6 C11 6.6 13.4 7.6 15.4 7.4 M7 3.6 C8.6 4.4 9.6 4.4 11 3.4 M10.4 4.4 C12 3.8 13.6 4.4 14.6 5.6 M6 5.2 C7.2 5.6 8.4 5.2 9.2 4.4" fill="none" stroke="#222" stroke-width="0.6" stroke-linecap="round" stroke-linejoin="round" vector-effect="non-scaling-stroke"/><path d="M6.6 9 L8.4 9.2 M10.6 9 L12.6 8.6" fill="none" stroke="#222" stroke-width="1.2" stroke-linecap="round" stroke-linejoin="round" vector-effect="non-scaling-stroke"/><path d="M8 12.6 C8.8 13.2 10 13.2 10.8 12.4" fill="none" stroke="#222" stroke-width="1.1" stroke-linecap="round" stroke-linejoin="round" vector-effect="non-scaling-stroke"/><path d="M9.4 9.6 L8.8 11.2" fill="none" stroke="#222" stroke-width="0.5" stroke-linecap="round" stroke-linejoin="round" vector-effect="non-scaling-stroke"/><path d="M7 15 C5.6 16 3.6 16.6 2.4 17.6 M12.6 14.8 C13.6 16 15 16.8 16.4 17.6 M8.4 15.6 L9.6 17.4 L11 15.4" fill="none" stroke="#222" stroke-width="0.7" stroke-linecap="round" stroke-linejoin="round" vector-effect="non-scaling-stroke"/></g>
<rect x="357.6" y="389.6" width="17.4" height="18.0" rx="0" fill="#fff" stroke="#222" stroke-width="0.9"/>
<g transform="translate(357.60 389.60) scale(0.9667 1.0000)"><path d="M1 16.6 C2.6 14 2.8 11 3.6 8.4 C4.6 4.6 7 2 10 1.8 C12.6 1.8 14 3.6 13.6 5.8" fill="none" stroke="#222" stroke-width="0.9" stroke-linecap="round" stroke-linejoin="round" vector-effect="non-scaling-stroke"/><path d="M13.6 5.8 C13.8 7 14.2 8.4 14.8 9.8 L13.8 10.4 C14 11.4 13.8 12 13.4 12.6 C13.4 13.8 13 14.6 12 14.8 C10.8 15 9.6 14.6 8.6 13.8" fill="none" stroke="#222" stroke-width="0.8" stroke-linecap="round" stroke-linejoin="round" vector-effect="non-scaling-stroke"/><path d="M13.4 5.4 C11 5 8.8 6.4 7.8 8.6 C7 10.4 7 12.4 6.6 14.4 M5.6 6 C7.4 4.4 9.6 3.6 11.8 3.8 M4.6 9 C5.6 7 7 5.6 9 4.8 M3.6 13 C4.6 11 5.4 9.4 6.4 8.4 M2.6 15.6 C4 14 5 12 5.6 10.4" fill="none" stroke="#222" stroke-width="0.6" stroke-linecap="round" stroke-linejoin="round" vector-effect="non-scaling-stroke"/><path d="M11.4 8.6 L13.2 8.4" fill="none" stroke="#222" stroke-width="1.2" stroke-linecap="round" stroke-linejoin="round" vector-effect="non-scaling-stroke"/><path d="M12 12.8 L13.2 12.8" fill="none" stroke="#222" stroke-width="0.8" stroke-linecap="round" stroke-linejoin="round" vector-effect="non-scaling-stroke"/><path d="M8.6 13.8 C8.4 15 7.6 16 6.4 16.8 M1 17 L10 17" fill="none" stroke="#222" stroke-width="0.8" stroke-linecap="round" stroke-linejoin="round" vector-effect="non-scaling-stroke"/></g>
<rect x="377.0" y="389.6" width="18.0" height="18.0" rx="0" fill="#fff" stroke="#222" stroke-width="0.9"/>
<g transform="translate(377.00 389.60) scale(1.0000 1.0000)"><path d="M4.6 7 C4 3.4 6 1.4 9.2 1.4 C12.4 1.4 14.2 3.4 13.6 7 C12.6 5.6 11.4 5 9.8 5.2 C8.4 5.4 7.6 4.6 7 5.4 C6 5.6 5.2 6.2 4.6 7 Z" fill="#777" stroke="#222" stroke-width="0.8" stroke-linecap="round" stroke-linejoin="round" vector-effect="non-scaling-stroke"/><path d="M4.8 6.8 C4.6 9.6 5.2 12 6.4 13.6 C7.2 14.6 8.2 15 9.1 15 C10 15 11 14.6 11.8 13.6 C13 12 13.6 9.6 13.4 6.8" fill="none" stroke="#222" stroke-width="0.9" stroke-linecap="round" stroke-linejoin="round" vector-effect="non-scaling-stroke"/><path d="M4.6 7.4 C3.8 7.2 3.8 9.2 4.8 10 M13.6 7.4 C14.4 7.2 14.4 9.2 13.4 10" fill="none" stroke="#222" stroke-width="0.6" stroke-linecap="round" stroke-linejoin="round" vector-effect="non-scaling-stroke"/><path d="M6.4 8.4 L8 8.6 M10.2 8.6 L11.8 8.4" fill="none" stroke="#222" stroke-width="1.2" stroke-linecap="round" stroke-linejoin="round" vector-effect="non-scaling-stroke"/><path d="M8.2 12.4 L10 12.4" fill="none" stroke="#222" stroke-width="1.2" stroke-linecap="round" stroke-linejoin="round" vector-effect="non-scaling-stroke"/><path d="M9.1 9 L8.8 10.8 L9.6 10.8" fill="none" stroke="#222" stroke-width="0.5" stroke-linecap="round" stroke-linejoin="round" vector-effect="non-scaling-stroke"/><path d="M1 17.4 C2 15.6 4 14.8 6.6 14.2 L17 17.4 M11.6 14.2 C14 14.8 16 15.6 17 17.4 L1 17.4 Z" fill="#777" stroke="#222" stroke-width="0.7" stroke-linecap="round" stroke-linejoin="round" vector-effect="non-scaling-stroke"/><path d="M7.4 14.8 L9.1 17 L10.8 14.8 Z" fill="#fff" stroke="#222" stroke-width="0.5" stroke-linecap="round" stroke-linejoin="round" vector-effect="non-scaling-stroke"/><path d="M2.6 16.6 L3.6 16.6 M5 16.6 L6 16.6 M12.2 16.6 L13.2 16.6 M14.6 16.6 L15.6 16.6" fill="none" stroke="#eee" stroke-width="0.6" stroke-linecap="round" stroke-linejoin="round" vector-effect="non-scaling-stroke"/></g>
<text transform="rotate(0.05 343.3 415.0)" x="337.8" y="415.0" font-size="7.5" textLength="11.0" lengthAdjust="spacingAndGlyphs" fill="#1a1a1a" stroke="#1a1a1a" stroke-width="0.21" >Jane</text>
<text transform="rotate(0.05 345.3 423.0)" x="337.8" y="423.0" font-size="7.5" textLength="15.0" lengthAdjust="spacingAndGlyphs" fill="#1a1a1a" stroke="#1a1a1a" stroke-width="0.21" >Fraser</text>
<text transform="rotate(0.05 361.8 415.0)" x="357.6" y="415.0" font-size="7.5" textLength="8.4" lengthAdjust="spacingAndGlyphs" fill="#1a1a1a" stroke="#1a1a1a" stroke-width="0.21" >Ann</text>
<text transform="rotate(0.05 365.6 423.0)" x="357.6" y="423.0" font-size="7.5" textLength="16.0" lengthAdjust="spacingAndGlyphs" fill="#1a1a1a" stroke="#1a1a1a" stroke-width="0.21" >Francis</text>
<text transform="rotate(0.05 380.8 415.0)" x="377.0" y="415.0" font-size="7.5" textLength="7.5" lengthAdjust="spacingAndGlyphs" fill="#1a1a1a" stroke="#1a1a1a" stroke-width="0.21" >Jim</text>
<text transform="rotate(0.05 387.5 423.0)" x="377.0" y="423.0" font-size="7.5" textLength="21.0" lengthAdjust="spacingAndGlyphs" fill="#1a1a1a" stroke="#1a1a1a" stroke-width="0.21" >Armstead</text>
<path d="M397.8 111 L397.8 102.4 C397.8 101.6 398.3 101.2 399.1 101.2 L415 101.2 C415.8 101.2 416.3 101.6 416.3 102.4 L416.3 111 L496.8 111" fill="none" stroke="#222" stroke-width="1.0" stroke-linecap="round" stroke-linejoin="round" />
<text transform="rotate(0.05 407.3 108.0)" x="402.6" y="108.0" font-size="7.5" textLength="9.4" lengthAdjust="spacingAndGlyphs" fill="#1a1a1a" stroke="#1a1a1a" stroke-width="0.21" >Wall</text>
<text transform="rotate(0.05 425.3 108.0)" x="421.0" y="108.0" font-size="7.5" textLength="8.6" lengthAdjust="spacingAndGlyphs" fill="#1a1a1a" stroke="#1a1a1a" stroke-width="0.21" >Info</text>
<text transform="rotate(0.05 446.2 108.0)" x="438.0" y="108.0" font-size="7.5" textLength="16.4" lengthAdjust="spacingAndGlyphs" fill="#1a1a1a" stroke="#1a1a1a" stroke-width="0.21" >Photos</text>
<text transform="rotate(0.05 469.9 108.0)" x="462.7" y="108.0" font-size="7.5" textLength="14.3" lengthAdjust="spacingAndGlyphs" fill="#1a1a1a" stroke="#1a1a1a" stroke-width="0.21" >Boxes</text>
<rect x="397.8" y="114.8" width="116.6" height="31.5" rx="1.5" fill="none" stroke="#222" stroke-width="1.0"/>
<rect x="401.2" y="118.4" width="109.4" height="10.2" rx="0" fill="none" stroke="#222" stroke-width="1.5"/>
<text transform="rotate(0.05 429.5 126.0)" x="405.0" y="126.0" font-size="7.5" textLength="49.0" lengthAdjust="spacingAndGlyphs" fill="#1a1a1a" stroke="#1a1a1a" stroke-width="0.21" >What's on your mind?</text>
<path d="M507 122.8 C508.4 121 510.4 121.2 512.4 121 L518.4 120.8" fill="none" stroke="#222" stroke-width="0.7" stroke-linecap="round" stroke-linejoin="round" />
<text transform="rotate(0.05 525.7 123.7)" x="519.4" y="123.7" font-size="9.2" textLength="12.6" lengthAdjust="spacingAndGlyphs" fill="#111" stroke="#111" stroke-width="0.21" >434</text>
<text transform="rotate(0.05 412.8 137.8)" x="405.0" y="137.8" font-size="7.5" textLength="15.5" lengthAdjust="spacingAndGlyphs" fill="#1a1a1a" stroke="#1a1a1a" stroke-width="0.21" >Attach:</text>
<rect x="482.0" y="132.8" width="28.7" height="10.0" rx="2.5" fill="none" stroke="#222" stroke-width="1.0"/>
<text transform="rotate(0.05 496.5 140.4)" x="490.0" y="140.4" font-size="7.5" textLength="13.0" lengthAdjust="spacingAndGlyphs" fill="#1a1a1a" stroke="#1a1a1a" stroke-width="0.21" >Share</text>
<text transform="rotate(0.05 505.6 154.0)" x="497.2" y="154.0" font-size="7.5" textLength="16.8" lengthAdjust="spacingAndGlyphs" fill="#1a1a1a" stroke="#1a1a1a" stroke-width="0.21" >Options</text>
<rect x="397.8" y="157.5" width="17.2" height="17.1" rx="0" fill="#fff" stroke="#222" stroke-width="0.9"/>
<g transform="translate(397.80 157.50) scale(0.9556 0.9500)"><path d="M2 16.6 C2.8 13 2.6 9.6 3.4 7 C4.4 3.8 6.6 2.2 9 2.2 C11.6 2.2 13.8 4 14.6 7 C15.4 9.8 15.2 13 16.2 16.6" fill="none" stroke="#222" stroke-width="0.9" stroke-linecap="round" stroke-linejoin="round" vector-effect="non-scaling-stroke"/><path d="M6.2 9 C6.2 7 7.4 5.8 9.1 5.8 C10.8 5.8 12 7 12 9 C12 11.6 10.8 14 9.1 14 C7.4 14 6.2 11.6 6.2 9 Z" fill="none" stroke="#222" stroke-width="0.8" stroke-linecap="round" stroke-linejoin="round" vector-effect="non-scaling-stroke"/><path d="M6.4 7.8 C8 7.6 9.8 6.8 10.6 5.9 M5 10 C5 12.6 5.4 14.6 6 16.6 M13.2 10 C13.2 12.6 12.8 14.6 12.2 16.6" fill="none" stroke="#222" stroke-width="0.6" stroke-linecap="round" stroke-linejoin="round" vector-effect="non-scaling-stroke"/><path d="M7.2 8.9 L8.4 8.9 M9.9 8.9 L11.1 8.9" fill="none" stroke="#222" stroke-width="1.2" stroke-linecap="round" stroke-linejoin="round" vector-effect="non-scaling-stroke"/><path d="M8.5 12 L9.8 12" fill="none" stroke="#222" stroke-width="1.1" stroke-linecap="round" stroke-linejoin="round" vector-effect="non-scaling-stroke"/><path d="M9.1 9.6 L9.1 10.8" fill="none" stroke="#222" stroke-width="0.5" stroke-linecap="round" stroke-linejoin="round" vector-effect="non-scaling-stroke"/><path d="M7.6 14.2 C7 15.4 5.6 16.2 4 16.8 M10.6 14.2 C11.2 15.4 12.6 16.2 14.2 16.8 M2 17 L16.2 17" fill="none" stroke="#222" stroke-width="0.7" stroke-linecap="round" stroke-linejoin="round" vector-effect="non-scaling-stroke"/></g>
<text transform="rotate(0.05 413.6 184.2)" x="397.6" y="184.2" font-size="7.5" textLength="32.0" lengthAdjust="spacingAndGlyphs" fill="#1a1a1a" stroke="#1a1a1a" stroke-width="0.21" >Melissa Smith</text>
<text transform="rotate(0.05 441.3 192.2)" x="397.6" y="192.2" font-size="7.5" textLength="87.4" lengthAdjust="spacingAndGlyphs" fill="#1a1a1a" stroke="#1a1a1a" stroke-width="0.21" >Great running into you again! Next time</text>
<text transform="rotate(0.05 416.6 199.6)" x="397.6" y="199.6" font-size="7.5" textLength="38.0" lengthAdjust="spacingAndGlyphs" fill="#1a1a1a" stroke="#1a1a1a" stroke-width="0.21" >drinks are on me!</text>
<text transform="rotate(0.05 438.1 207.8)" x="397.6" y="207.8" font-size="7.5" textLength="81.0" lengthAdjust="spacingAndGlyphs" fill="#1a1a1a" stroke="#1a1a1a" stroke-width="0.21" >January 25 at 4:47am<tspan font-size="9.5"> </tspan><tspan dy="-1.4" font-size="8.5">•</tspan><tspan dy="1.4" font-size="9.5"> </tspan>Comment<tspan font-size="9.5"> </tspan><tspan dy="-1.4" font-size="8.5">•</tspan></text>
<text transform="rotate(0.05 426.3 216.0)" x="397.6" y="216.0" font-size="7.5" textLength="57.4" lengthAdjust="spacingAndGlyphs" fill="#1a1a1a" stroke="#1a1a1a" stroke-width="0.21" >Like<tspan font-size="9.5"> </tspan><tspan dy="-1.4" font-size="8.5">•</tspan><tspan dy="1.4" font-size="9.5"> </tspan>See Wall-to-Wall<tspan font-size="9.5"> </tspan><tspan dy="-1.4" font-size="8.5">•</tspan></text>
<path d="M488.2 157.4 C490.0 157.4 490.6 158.2 490.6 159.8 L490.6 185.7 L492.3 187.4 L490.6 189.1 L490.6 214.0 C490.6 215.6 490.0 216.4 488.2 216.4" fill="none" stroke="#1c1c1c" stroke-width="1.9" stroke-linecap="round" stroke-linejoin="round" />
<text transform="rotate(0.05 500.9 190.4)" x="494.6" y="190.4" font-size="9.2" textLength="12.6" lengthAdjust="spacingAndGlyphs" fill="#111" stroke="#111" stroke-width="0.21" >435</text>
<text transform="rotate(0.05 414.3 229.2)" x="397.6" y="229.2" font-size="7.5" textLength="33.4" lengthAdjust="spacingAndGlyphs" fill="#1a1a1a" stroke="#1a1a1a" stroke-width="0.21" >Recent Activity</text>
<text transform="rotate(0.05 462.6 239.4)" x="400.4" y="239.4" font-size="7.5" textLength="124.3" lengthAdjust="spacingAndGlyphs" fill="#1a1a1a" stroke="#1a1a1a" stroke-width="0.21" >Colin and Ivy James are now friends.<tspan font-size="9.5"> </tspan><tspan dy="-1.4" font-size="8.5">•</tspan><tspan dy="1.4" font-size="9.5"> </tspan>Comment<tspan font-size="9.5"> </tspan><tspan dy="-1.4" font-size="8.5">•</tspan><tspan dy="1.4" font-size="9.5"> </tspan>Like</text>
<text transform="rotate(0.05 443.2 249.1)" x="400.4" y="249.1" font-size="7.5" textLength="85.6" lengthAdjust="spacingAndGlyphs" fill="#1a1a1a" stroke="#1a1a1a" stroke-width="0.21" >Colin wrote on Matthew Steven's Wall.</text>
<text transform="rotate(0.05 464.6 258.9)" x="400.4" y="258.9" font-size="7.5" textLength="128.4" lengthAdjust="spacingAndGlyphs" fill="#1a1a1a" stroke="#1a1a1a" stroke-width="0.21" >Colin and Mike Martin are now friends.<tspan font-size="9.5"> </tspan><tspan dy="-1.4" font-size="8.5">•</tspan><tspan dy="1.4" font-size="9.5"> </tspan>Comment<tspan font-size="9.5"> </tspan><tspan dy="-1.4" font-size="8.5">•</tspan><tspan dy="1.4" font-size="9.5"> </tspan>Like</text>
<text transform="rotate(0.05 461.2 268.9)" x="400.4" y="268.9" font-size="7.5" textLength="121.6" lengthAdjust="spacingAndGlyphs" fill="#1a1a1a" stroke="#1a1a1a" stroke-width="0.21" >Colin and Chris Orr are now friends.<tspan font-size="9.5"> </tspan><tspan dy="-1.4" font-size="8.5">•</tspan><tspan dy="1.4" font-size="9.5"> </tspan>Comment<tspan font-size="9.5"> </tspan><tspan dy="-1.4" font-size="8.5">•</tspan><tspan dy="1.4" font-size="9.5"> </tspan>Like</text>
<text transform="rotate(0.05 424.7 278.8)" x="400.4" y="278.8" font-size="7.5" textLength="48.6" lengthAdjust="spacingAndGlyphs" fill="#1a1a1a" stroke="#1a1a1a" stroke-width="0.21" >3 more similar stories</text>
<text transform="rotate(0.05 438.4 288.4)" x="400.4" y="288.4" font-size="7.5" textLength="76.1" lengthAdjust="spacingAndGlyphs" fill="#1a1a1a" stroke="#1a1a1a" stroke-width="0.21" >Colin wrote on Ross Daniel's Wall.</text>
<text transform="rotate(0.05 439.9 298.2)" x="400.4" y="298.2" font-size="7.5" textLength="79.1" lengthAdjust="spacingAndGlyphs" fill="#1a1a1a" stroke="#1a1a1a" stroke-width="0.21" >Colin wrote on Vivek Mitchels Wall.</text>
<path d="M538.4 60.8 C536.6 60.8 536.0 61.6 536.0 63.2 L536.0 199.5 L534.3 201.2 L536.0 202.9 L536.0 339.0 C536.0 340.6 536.6 341.4 538.4 341.4" fill="none" stroke="#1c1c1c" stroke-width="1.9" stroke-linecap="round" stroke-linejoin="round" />
<text transform="rotate(0.05 525.7 204.2)" x="519.4" y="204.2" font-size="9.2" textLength="12.6" lengthAdjust="spacingAndGlyphs" fill="#111" stroke="#111" stroke-width="0.21" >450</text>
<text transform="rotate(0.05 566.9 69.0)" x="542.0" y="69.0" font-size="7.5" textLength="49.8" lengthAdjust="spacingAndGlyphs" fill="#1a1a1a" stroke="#1a1a1a" stroke-width="0.21" >People You May Know</text>
<path d="M593.0 66.4 C595.8 64.8 596.8 64.1 597.7 65.3 S599.6 65.8 602.4 64.2" fill="none" stroke="#222" stroke-width="0.7" stroke-linecap="round" stroke-linejoin="round" />
<text transform="rotate(0.05 610.0 67.0)" x="603.6" y="67.0" font-size="9.2" textLength="12.8" lengthAdjust="spacingAndGlyphs" fill="#111" stroke="#111" stroke-width="0.21" >432</text>
<rect x="542.3" y="77.4" width="21.1" height="21.8" rx="0" fill="#fff" stroke="#222" stroke-width="0.9"/>
<g transform="translate(542.30 77.40) scale(1.0048 0.9909)"><g transform="translate(-1.6 -0.6) scale(1.04 1.12)"><path d="M6 9 C5.4 5 8 2 11.6 2 C15.4 2 17.6 5 17 9 C16.8 10.4 16.4 11.6 16 12.6" fill="none" stroke="#222" stroke-width="0.9" stroke-linecap="round" stroke-linejoin="round" vector-effect="non-scaling-stroke"/><path d="M6 9 C6 11 6.2 13 7 15 C8 17.4 10 18.4 11.8 17.8 C13.8 17 15.4 15 16 12.6" fill="none" stroke="#222" stroke-width="0.9" stroke-linecap="round" stroke-linejoin="round" vector-effect="non-scaling-stroke"/><path d="M6.2 8 C7 6 8.6 5 10.6 5.4 C12.6 5.8 15 5.6 16.8 7 M7.4 4.6 C9 3.6 11 3.4 13 3.8" fill="none" stroke="#222" stroke-width="0.6" stroke-linecap="round" stroke-linejoin="round" vector-effect="non-scaling-stroke"/><path d="M7 9.4 L9 9.6 M11 9.8 L13.6 9.6" fill="none" stroke="#222" stroke-width="1.1" stroke-linecap="round" stroke-linejoin="round" vector-effect="non-scaling-stroke"/><path d="M7.4 10.6 C7.8 10.2 8.6 10.2 9 10.6 M11.4 10.8 C12 10.4 12.8 10.4 13.2 10.8" fill="none" stroke="#222" stroke-width="0.7" stroke-linecap="round" stroke-linejoin="round" vector-effect="non-scaling-stroke"/><path d="M8.2 14.8 L10.8 15" fill="none" stroke="#222" stroke-width="0.9" stroke-linecap="round" stroke-linejoin="round" vector-effect="non-scaling-stroke"/><path d="M9.8 10.8 L8.8 13 L10 13.2" fill="none" stroke="#222" stroke-width="0.5" stroke-linecap="round" stroke-linejoin="round" vector-effect="non-scaling-stroke"/><path d="M6.4 9 L6.8 14 M7.2 11 L7.8 15" fill="none" stroke="#222" stroke-width="0.4" stroke-linecap="round" stroke-linejoin="round" vector-effect="non-scaling-stroke"/><path d="M16.2 9 C17.4 8.6 17.8 11 16.4 12.4" fill="none" stroke="#222" stroke-width="0.6" stroke-linecap="round" stroke-linejoin="round" vector-effect="non-scaling-stroke"/><path d="M11.6 18 C11.6 19 11 19.6 10.4 20.2 M15.6 14 C16 16 18 18.4 21.4 19.4" fill="none" stroke="#222" stroke-width="0.9" stroke-linecap="round" stroke-linejoin="round" vector-effect="non-scaling-stroke"/></g></g>
<text transform="rotate(0.05 579.9 83.5)" x="567.2" y="83.5" font-size="7.5" textLength="25.4" lengthAdjust="spacingAndGlyphs" fill="#1a1a1a" stroke="#1a1a1a" stroke-width="0.21" >John Smith</text>
<text transform="rotate(0.05 585.1 91.0)" x="567.2" y="91.0" font-size="7.5" textLength="35.8" lengthAdjust="spacingAndGlyphs" fill="#1a1a1a" stroke="#1a1a1a" stroke-width="0.21" >3 mutual friends</text>
<text transform="rotate(0.05 579.1 98.6)" x="567.2" y="98.6" font-size="7.5" textLength="23.8" lengthAdjust="spacingAndGlyphs" fill="#1a1a1a" stroke="#1a1a1a" stroke-width="0.21" >Add Friend</text>
<text transform="rotate(0.05 609.5 101.4)" x="601.4" y="101.4" font-size="9.2" textLength="16.3" lengthAdjust="spacingAndGlyphs" fill="#111" stroke="#111" stroke-width="0.21" >432a</text>
<line x1="600.9" y1="103.1" x2="618.2" y2="103.1" stroke="#222" stroke-width="0.8"/>
<rect x="542.3" y="109.5" width="21.1" height="21.3" rx="0" fill="#fff" stroke="#222" stroke-width="0.9"/>
<g transform="translate(542.30 109.50) scale(1.0048 0.9682)"><g transform="translate(-1.2 -0.8) scale(1.1 1.1)"><path d="M5 12 C3.6 8 5.6 4 9.6 3.4 C13.6 2.8 16.6 5.4 16.4 9" fill="none" stroke="#222" stroke-width="0.9" stroke-linecap="round" stroke-linejoin="round" vector-effect="non-scaling-stroke"/><path d="M6 7 C7 5.6 8.6 5.6 9 7 C10 5.6 11.6 5.8 12 7 C13 6 14.6 6.4 15 7.6 M6.6 9 C7.6 8 9 8.2 9.6 9.4 M5.6 10.6 C6.4 9.8 7.6 10 8 11 M7 5 C8 4.2 9.4 4.2 10 5.2 C11 4.2 12.6 4.4 13.2 5.4 M9.6 9.4 C10.4 8.4 11.8 8.6 12.2 9.6 M6.4 12 C7.2 11.4 8.2 11.6 8.6 12.6" fill="none" stroke="#222" stroke-width="0.6" stroke-linecap="round" stroke-linejoin="round" vector-effect="non-scaling-stroke"/><path d="M16.4 9 C16.4 10 16.6 10.6 17 11.4 L16 12 C16.2 13.4 16 14.8 15 15.6 C13.6 16.4 11.6 16 10.4 15" fill="none" stroke="#222" stroke-width="0.8" stroke-linecap="round" stroke-linejoin="round" vector-effect="non-scaling-stroke"/><path d="M12.6 9.8 L15.2 9.6" fill="none" stroke="#222" stroke-width="1.1" stroke-linecap="round" stroke-linejoin="round" vector-effect="non-scaling-stroke"/><path d="M13.4 13.8 L15.2 13.8" fill="none" stroke="#222" stroke-width="0.8" stroke-linecap="round" stroke-linejoin="round" vector-effect="non-scaling-stroke"/><path d="M15.6 12.4 L14.8 12.6" fill="none" stroke="#222" stroke-width="0.5" stroke-linecap="round" stroke-linejoin="round" vector-effect="non-scaling-stroke"/><path d="M5 12 C5.6 14 5 16.6 3 18.6 C4.6 19 6.6 18.4 7.6 17 M10.4 15 C10.4 17 9.4 19 7.6 20.6 M15 15.8 C15.2 18 16.6 20 19.6 20.8" fill="none" stroke="#222" stroke-width="0.8" stroke-linecap="round" stroke-linejoin="round" vector-effect="non-scaling-stroke"/></g></g>
<text transform="rotate(0.05 582.6 114.6)" x="567.2" y="114.6" font-size="7.5" textLength="30.8" lengthAdjust="spacingAndGlyphs" fill="#1a1a1a" stroke="#1a1a1a" stroke-width="0.21" >Natalie Ortega</text>
<text transform="rotate(0.05 586.1 122.2)" x="567.2" y="122.2" font-size="7.5" textLength="37.8" lengthAdjust="spacingAndGlyphs" fill="#1a1a1a" stroke="#1a1a1a" stroke-width="0.21" >14 mutual friends</text>
<text transform="rotate(0.05 579.1 129.8)" x="567.2" y="129.8" font-size="7.5" textLength="23.8" lengthAdjust="spacingAndGlyphs" fill="#1a1a1a" stroke="#1a1a1a" stroke-width="0.21" >Add Friend</text>
<text transform="rotate(0.05 609.5 132.6)" x="601.4" y="132.6" font-size="9.2" textLength="16.3" lengthAdjust="spacingAndGlyphs" fill="#111" stroke="#111" stroke-width="0.21" >432b</text>
<line x1="600.9" y1="134.3" x2="618.2" y2="134.3" stroke="#222" stroke-width="0.8"/>
<rect x="542.3" y="142.8" width="70.9" height="17.5" rx="0" fill="none" stroke="#222" stroke-width="0.9"/>
<text transform="rotate(0.05 557.8 154.2)" x="545.8" y="154.2" font-size="7.5" textLength="24.0" lengthAdjust="spacingAndGlyphs" fill="#1a1a1a" stroke="#1a1a1a" stroke-width="0.21" >Sponsored</text>
<text transform="rotate(0.05 600.6 153.6)" x="594.3" y="153.6" font-size="9.2" textLength="12.7" lengthAdjust="spacingAndGlyphs" fill="#111" stroke="#111" stroke-width="0.21" >430</text>
<line x1="593.8" y1="155.3" x2="607.5" y2="155.3" stroke="#222" stroke-width="0.8"/>
<rect x="542.3" y="165.8" width="28.2" height="21.0" rx="0" fill="#fff" stroke="#222" stroke-width="0.9"/>
<g transform="translate(542.30 165.80) scale(1.0071 1.0000)"><path d="M4.4 7.6 C3.6 4.6 5 2 7.4 1.8 C9.8 1.6 11.4 3.8 10.8 6.6 C10.4 8.6 9 10.2 7.4 10.2 C5.8 10.2 4.8 9 4.4 7.6 Z" fill="none" stroke="#222" stroke-width="0.8" stroke-linecap="round" stroke-linejoin="round" vector-effect="non-scaling-stroke"/><path d="M4.6 6 C6 5.6 7.6 4.6 8 3.4 C9 4.6 10 5 10.8 5.2 C10.6 3 9 1.8 7.4 1.8 C5.6 1.9 4.2 3.6 4.6 6 Z" fill="#888" stroke="#222" stroke-width="0.5" stroke-linecap="round" stroke-linejoin="round" vector-effect="non-scaling-stroke"/><path d="M5.4 10 C3 11 1 13 0.8 17 L0.8 20.4 M9.4 10 C11 11.6 12.6 13.6 14 15.4 L18 13.6" fill="none" stroke="#222" stroke-width="0.8" stroke-linecap="round" stroke-linejoin="round" vector-effect="non-scaling-stroke"/><path d="M5 14 C7 16 10 17.6 13 17.4 L17.6 15.6" fill="none" stroke="#222" stroke-width="0.7" stroke-linecap="round" stroke-linejoin="round" vector-effect="non-scaling-stroke"/><path d="M17.4 6.4 L24.6 4 L26.4 12 L19.6 14.6 Z" fill="none" stroke="#222" stroke-width="0.9" stroke-linecap="round" stroke-linejoin="round" vector-effect="non-scaling-stroke"/><path d="M18.6 7.4 L23.8 5.6 L25.2 11.4 L20.2 13.2 Z" fill="#bbb" stroke="#222" stroke-width="0.5" stroke-linecap="round" stroke-linejoin="round" vector-effect="non-scaling-stroke"/><path d="M19.6 14.6 L14.6 16.6 L17 18.6 L27 14.4 L26.4 12" fill="none" stroke="#222" stroke-width="0.8" stroke-linecap="round" stroke-linejoin="round" vector-effect="non-scaling-stroke"/><path d="M16 16.8 L24 13.8" fill="none" stroke="#222" stroke-width="0.5" stroke-linecap="round" stroke-linejoin="round" vector-effect="non-scaling-stroke"/></g>
<text transform="rotate(0.05 588.1 171.0)" x="574.2" y="171.0" font-size="7.5" textLength="27.8" lengthAdjust="spacingAndGlyphs" fill="#1a1a1a" stroke="#1a1a1a" stroke-width="0.21" >University of</text>
<text transform="rotate(0.05 582.8 178.6)" x="574.2" y="178.6" font-size="7.5" textLength="17.2" lengthAdjust="spacingAndGlyphs" fill="#1a1a1a" stroke="#1a1a1a" stroke-width="0.21" >Phoenix</text>
<text transform="rotate(0.05 588.1 186.3)" x="574.2" y="186.3" font-size="7.5" textLength="27.8" lengthAdjust="spacingAndGlyphs" fill="#1a1a1a" stroke="#1a1a1a" stroke-width="0.21" >Get your MS</text>
<text transform="rotate(0.05 594.1 193.9)" x="574.2" y="193.9" font-size="7.5" textLength="39.8" lengthAdjust="spacingAndGlyphs" fill="#1a1a1a" stroke="#1a1a1a" stroke-width="0.21" >online in 6 weeks!</text>
<text transform="rotate(0.05 556.5 198.8)" x="548.3" y="198.8" font-size="9.2" textLength="16.5" lengthAdjust="spacingAndGlyphs" fill="#111" stroke="#111" stroke-width="0.21" >430a</text>
<line x1="547.8" y1="200.5" x2="565.3" y2="200.5" stroke="#222" stroke-width="0.8"/>
<line x1="542.3" y1="204.4" x2="612.8" y2="204.4" stroke="#222" stroke-width="0.9"/>
<rect x="542.3" y="209.6" width="28.2" height="21.8" rx="0" fill="#fff" stroke="#222" stroke-width="0.9"/>
<g transform="translate(542.30 209.60) scale(1.0071 0.9909)"><g transform="translate(14 11) scale(1.3 1.22) translate(-14.6 -10.8)"><path d="M9 4.6 C10.6 4 12.6 3.8 14 4.2 L15.4 16.6 C14 17.6 11.6 18 9.6 17.6 C9 13 8.6 9 9 4.6 Z" fill="none" stroke="#222" stroke-width="0.9" stroke-linecap="round" stroke-linejoin="round" vector-effect="non-scaling-stroke"/><path d="M14 4.2 C15.6 3.6 17.6 3.6 19 4.4 C20.4 8 21.2 12 21.6 15.4 C20 16.8 17.6 17.2 16 16.6 L14.6 9.6" fill="none" stroke="#222" stroke-width="0.9" stroke-linecap="round" stroke-linejoin="round" vector-effect="non-scaling-stroke"/><path d="M9.2 6 C10.8 5.4 12.4 5.2 14 5.6 M14.4 5.6 C16 5 17.6 5 19.2 5.8" fill="none" stroke="#222" stroke-width="0.5" stroke-linecap="round" stroke-linejoin="round" vector-effect="non-scaling-stroke"/></g></g>
<text transform="rotate(0.05 592.6 215.6)" x="574.2" y="215.6" font-size="7.5" textLength="36.8" lengthAdjust="spacingAndGlyphs" fill="#1a1a1a" stroke="#1a1a1a" stroke-width="0.21" >$15 for Bonobos</text>
<text transform="rotate(0.05 581.1 223.2)" x="574.2" y="223.2" font-size="7.5" textLength="13.8" lengthAdjust="spacingAndGlyphs" fill="#1a1a1a" stroke="#1a1a1a" stroke-width="0.21" >Shorts</text>
<text transform="rotate(0.05 593.5 231.0)" x="574.2" y="231.0" font-size="7.5" textLength="38.6" lengthAdjust="spacingAndGlyphs" fill="#1a1a1a" stroke="#1a1a1a" stroke-width="0.21" >Take $50 off your</text>
<text transform="rotate(0.05 589.6 239.0)" x="574.2" y="239.0" font-size="7.5" textLength="30.8" lengthAdjust="spacingAndGlyphs" fill="#1a1a1a" stroke="#1a1a1a" stroke-width="0.21" >first purchase!</text>
<text transform="rotate(0.05 556.5 242.6)" x="548.3" y="242.6" font-size="9.2" textLength="16.5" lengthAdjust="spacingAndGlyphs" fill="#111" stroke="#111" stroke-width="0.21" >430b</text>
<line x1="547.8" y1="244.3" x2="565.3" y2="244.3" stroke="#222" stroke-width="0.8"/>
<line x1="542.3" y1="248.5" x2="612.8" y2="248.5" stroke="#222" stroke-width="0.9"/>
<rect x="542.3" y="253.6" width="28.2" height="21.4" rx="0" fill="#fff" stroke="#222" stroke-width="0.9"/>
<g transform="translate(542.30 253.60) scale(1.0071 1.0190)"><path d="M14 2 L14 17" fill="none" stroke="#222" stroke-width="1.0" stroke-linecap="round" stroke-linejoin="round" vector-effect="non-scaling-stroke"/><path d="M6 5 L22 5" fill="none" stroke="#222" stroke-width="0.9" stroke-linecap="round" stroke-linejoin="round" vector-effect="non-scaling-stroke"/><path d="M9.6 17.4 L18.4 17.4" fill="none" stroke="#222" stroke-width="1.4" stroke-linecap="round" stroke-linejoin="round" vector-effect="non-scaling-stroke"/><path d="M12.6 3 L15.4 3" fill="none" stroke="#222" stroke-width="0.7" stroke-linecap="round" stroke-linejoin="round" vector-effect="non-scaling-stroke"/><path d="M7 5 L4.2 10.6 M7 5 L9.8 10.6 M21 5 L18.2 10.6 M21 5 L23.8 10.6" fill="none" stroke="#222" stroke-width="0.6" stroke-linecap="round" stroke-linejoin="round" vector-effect="non-scaling-stroke"/><path d="M3.6 10.6 L10.4 10.6 C10 12.6 8.6 13.4 7 13.4 C5.4 13.4 4 12.6 3.6 10.6 Z M17.6 10.6 L24.4 10.6 C24 12.6 22.6 13.4 21 13.4 C19.4 13.4 18 12.6 17.6 10.6 Z" fill="none" stroke="#222" stroke-width="0.7" stroke-linecap="round" stroke-linejoin="round" vector-effect="non-scaling-stroke"/></g>
<text transform="rotate(0.05 593.7 259.9)" x="574.2" y="259.9" font-size="7.5" textLength="39.0" lengthAdjust="spacingAndGlyphs" fill="#1a1a1a" stroke="#1a1a1a" stroke-width="0.21" >Thomas Jefferson</text>
<text transform="rotate(0.05 586.4 267.3)" x="574.2" y="267.3" font-size="7.5" textLength="24.4" lengthAdjust="spacingAndGlyphs" fill="#1a1a1a" stroke="#1a1a1a" stroke-width="0.21" >Law School</text>
<text transform="rotate(0.05 596.2 275.0)" x="574.2" y="275.0" font-size="7.5" textLength="44.0" lengthAdjust="spacingAndGlyphs" fill="#1a1a1a" stroke="#1a1a1a" stroke-width="0.21" >An ABA- accredited</text>
<text transform="rotate(0.05 594.1 282.6)" x="574.2" y="282.6" font-size="7.5" textLength="39.8" lengthAdjust="spacingAndGlyphs" fill="#1a1a1a" stroke="#1a1a1a" stroke-width="0.21" >school. Download</text>
<text transform="rotate(0.05 589.6 290.1)" x="574.2" y="290.1" font-size="7.5" textLength="30.8" lengthAdjust="spacingAndGlyphs" fill="#1a1a1a" stroke="#1a1a1a" stroke-width="0.21" >free brochure!</text>
<text transform="rotate(0.05 556.5 290.2)" x="548.3" y="290.2" font-size="9.2" textLength="16.5" lengthAdjust="spacingAndGlyphs" fill="#111" stroke="#111" stroke-width="0.21" >430c</text>
<line x1="547.8" y1="291.9" x2="565.3" y2="291.9" stroke="#222" stroke-width="0.8"/>
<line x1="542.3" y1="298.0" x2="612.8" y2="298.0" stroke="#222" stroke-width="0.9"/>
<rect x="542.3" y="303.2" width="28.2" height="21.2" rx="0" fill="#fff" stroke="#222" stroke-width="0.9"/>
<g transform="translate(542.30 303.20) scale(1.0071 1.0095)"><path d="M7 0.6 C6.6 5 7 10 9 14 C10.6 17 13 19 15 19 C17.4 19 19.6 16.6 20.8 13.6 C22 10 22.4 5 22 0.6" fill="none" stroke="#222" stroke-width="0.8" stroke-linecap="round" stroke-linejoin="round" vector-effect="non-scaling-stroke"/><path d="M7 0.6 C8 2.6 10 3.6 12 3 C14 2.4 16 3.4 18 3 C20 2.6 21.4 1.6 22 0.6 Z" fill="#666" stroke="#222" stroke-width="0.6" stroke-linecap="round" stroke-linejoin="round" vector-effect="non-scaling-stroke"/><path d="M8.6 5.4 L12.4 5.8 M16 5.8 L20 5.2" fill="none" stroke="#222" stroke-width="1.0" stroke-linecap="round" stroke-linejoin="round" vector-effect="non-scaling-stroke"/><path d="M9.4 7.2 C10.2 6.6 11.6 6.6 12.4 7.4 M16.4 7.4 C17.2 6.6 18.6 6.6 19.4 7.2" fill="none" stroke="#222" stroke-width="0.7" stroke-linecap="round" stroke-linejoin="round" vector-effect="non-scaling-stroke"/><path d="M14.4 7.6 L13.6 11.6 L15.6 11.8" fill="none" stroke="#222" stroke-width="0.5" stroke-linecap="round" stroke-linejoin="round" vector-effect="non-scaling-stroke"/><path d="M12 14.6 C13.4 15.2 15.6 15.2 17 14.4" fill="none" stroke="#222" stroke-width="0.8" stroke-linecap="round" stroke-linejoin="round" vector-effect="non-scaling-stroke"/><path d="M0.6 1 L6.8 8 M0.6 6 L7.6 12 M27.4 1 L22.2 8 M27.4 6 L21.4 12" fill="none" stroke="#222" stroke-width="0.5" stroke-linecap="round" stroke-linejoin="round" vector-effect="non-scaling-stroke"/><path d="M9.4 15 C7 17 3 18.6 0.6 20.4 M20.4 14.6 C22.6 17 25.6 18.6 27.4 20.4 M11 17.6 L8 20.4 M19 17.4 L21.6 20.4" fill="none" stroke="#222" stroke-width="0.7" stroke-linecap="round" stroke-linejoin="round" vector-effect="non-scaling-stroke"/></g>
<text transform="rotate(0.05 592.6 309.4)" x="574.2" y="309.4" font-size="7.5" textLength="36.8" lengthAdjust="spacingAndGlyphs" fill="#1a1a1a" stroke="#1a1a1a" stroke-width="0.21" >Dexter: Season 6</text>
<text transform="rotate(0.05 593.3 317.0)" x="574.2" y="317.0" font-size="7.5" textLength="38.2" lengthAdjust="spacingAndGlyphs" fill="#1a1a1a" stroke="#1a1a1a" stroke-width="0.21" >Premieres 9/1/11</text>
<text transform="rotate(0.05 594.0 324.6)" x="574.2" y="324.6" font-size="7.5" textLength="39.6" lengthAdjust="spacingAndGlyphs" fill="#1a1a1a" stroke="#1a1a1a" stroke-width="0.21" >only on Showtime</text>
<text transform="rotate(0.05 556.5 336.5)" x="548.3" y="336.5" font-size="9.2" textLength="16.5" lengthAdjust="spacingAndGlyphs" fill="#111" stroke="#111" stroke-width="0.21" >430d</text>
<line x1="547.8" y1="338.2" x2="565.3" y2="338.2" stroke="#222" stroke-width="0.8"/>
<text class="fig" x="478.5" y="452.5" font-size="13.5" text-anchor="middle" fill="#111" stroke="#111" stroke-width="0.3" textLength="43.5" lengthAdjust="spacingAndGlyphs">FIG. 4B</text>
</svg>
</body></html>
